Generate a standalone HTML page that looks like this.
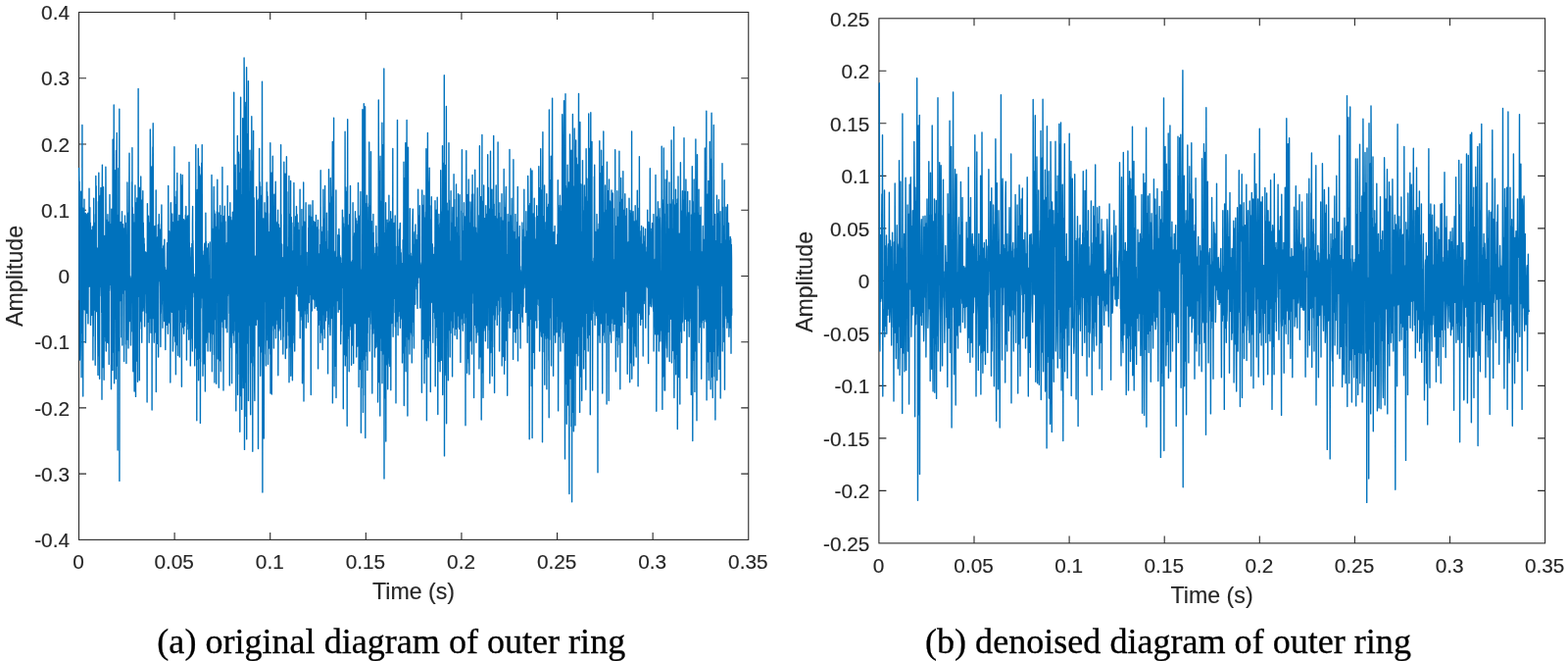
<!DOCTYPE html>
<html><head><meta charset="utf-8"><title>figure</title>
<style>
html,body{margin:0;padding:0;background:#fff;}
body{width:1600px;height:674px;overflow:hidden;position:relative;font-family:"Liberation Sans",sans-serif;}
svg{position:absolute;left:0;top:0;display:block}
.t{font-family:"Liberation Sans",sans-serif;font-size:20.8px;fill:#262626;stroke:#262626;stroke-width:0.15px;}
.l{font-family:"Liberation Sans",sans-serif;font-size:23.2px;fill:#262626;stroke:#262626;stroke-width:0.15px;}
.c{font-family:"Liberation Serif",serif;font-size:36.1px;fill:#000;stroke:#000;stroke-width:0.3px;}
</style></head><body>
<svg width="1600" height="674" viewBox="0 0 1600 674">
<rect width="1600" height="674" fill="#fff"/>
<rect x="80.5" y="12.5" width="683.25" height="537.90" fill="none" stroke="#2a2a2a" stroke-width="1.1"/>
<text x="71.00" y="558.10" text-anchor="end" class="t">-0.4</text>
<text x="71.00" y="490.86" text-anchor="end" class="t">-0.3</text>
<text x="71.00" y="423.62" text-anchor="end" class="t">-0.2</text>
<text x="71.00" y="356.39" text-anchor="end" class="t">-0.1</text>
<text x="71.00" y="289.15" text-anchor="end" class="t">0</text>
<text x="71.00" y="221.91" text-anchor="end" class="t">0.1</text>
<text x="71.00" y="154.68" text-anchor="end" class="t">0.2</text>
<text x="71.00" y="87.44" text-anchor="end" class="t">0.3</text>
<text x="71.00" y="20.20" text-anchor="end" class="t">0.4</text>
<text x="80.10" y="579.60" text-anchor="middle" class="t">0</text>
<text x="177.71" y="579.60" text-anchor="middle" class="t">0.05</text>
<text x="275.31" y="579.60" text-anchor="middle" class="t">0.1</text>
<text x="372.92" y="579.60" text-anchor="middle" class="t">0.15</text>
<text x="470.53" y="579.60" text-anchor="middle" class="t">0.2</text>
<text x="568.14" y="579.60" text-anchor="middle" class="t">0.25</text>
<text x="665.74" y="579.60" text-anchor="middle" class="t">0.3</text>
<text x="763.35" y="579.60" text-anchor="middle" class="t">0.35</text>
<path d="M80.5,483.16h7.5M763.75,483.16h-7.5M80.5,415.92h7.5M763.75,415.92h-7.5M80.5,348.69h7.5M763.75,348.69h-7.5M80.5,281.45h7.5M763.75,281.45h-7.5M80.5,214.21h7.5M763.75,214.21h-7.5M80.5,146.98h7.5M763.75,146.98h-7.5M80.5,79.74h7.5M763.75,79.74h-7.5M178.11,550.4v-7.5M178.11,12.5v7.5M275.71,550.4v-7.5M275.71,12.5v7.5M373.32,550.4v-7.5M373.32,12.5v7.5M470.93,550.4v-7.5M470.93,12.5v7.5M568.54,550.4v-7.5M568.54,12.5v7.5M666.14,550.4v-7.5M666.14,12.5v7.5" fill="none" stroke="#2a2a2a" stroke-width="1.1"/>
<path d="M80.6,171.1 80.8,185.1 80.9,305.5 81.1,185.2 81.3,232.1 81.4,367.0 81.6,350.2 81.7,326.5 81.9,212.1 82.1,269.9 82.2,346.4 82.4,334.5 82.6,230.4 82.7,195.3 82.9,232.9 83.0,384.8 83.2,308.3 83.4,223.9 83.5,316.0 83.7,321.6 83.9,127.4 84.0,248.6 84.2,339.6 84.3,211.8 84.5,212.6 84.7,404.1 84.8,323.6 85.0,309.7 85.2,257.9 85.3,212.2 85.5,311.7 85.6,262.1 85.8,312.7 86.0,203.1 86.1,309.7 86.3,315.7 86.5,271.3 86.6,233.4 86.8,304.2 86.9,288.7 87.1,312.0 87.3,217.4 87.4,349.2 87.6,300.9 87.8,218.0 87.9,310.5 88.1,234.3 88.2,318.2 88.4,259.1 88.6,218.9 88.7,316.1 88.9,319.2 89.1,255.3 89.2,219.7 89.4,297.6 89.5,265.8 89.7,217.3 89.9,329.9 90.0,321.7 90.2,236.5 90.4,249.0 90.5,282.3 90.7,292.4 90.8,291.6 91.0,192.1 91.2,285.6 91.3,284.8 91.5,289.2 91.7,218.8 91.8,211.7 92.0,258.6 92.2,292.6 92.3,227.3 92.5,331.4 92.6,314.2 92.8,286.3 93.0,316.9 93.1,234.8 93.3,321.5 93.5,237.2 93.6,242.9 93.8,259.4 93.9,319.8 94.1,299.1 94.3,230.9 94.4,290.0 94.6,321.5 94.8,296.7 94.9,367.0 95.1,245.7 95.2,343.1 95.4,308.8 95.6,240.5 95.7,202.2 95.9,316.0 96.1,239.0 96.2,262.9 96.4,227.2 96.5,301.8 96.7,310.0 96.9,306.9 97.0,238.4 97.2,372.3 97.4,304.8 97.5,218.6 97.7,244.0 97.8,179.4 98.0,295.7 98.2,189.8 98.3,316.5 98.5,317.6 98.7,298.5 98.8,265.8 99.0,252.9 99.1,255.8 99.3,305.3 99.5,263.5 99.6,261.2 99.8,345.5 100.0,382.4 100.1,347.4 100.3,363.3 100.4,205.6 100.6,331.1 100.8,176.1 100.9,331.3 101.1,256.3 101.3,245.0 101.4,236.9 101.6,386.3 101.7,286.9 101.9,213.3 102.1,288.7 102.2,200.1 102.4,199.1 102.6,288.8 102.7,211.9 102.9,191.4 103.1,292.7 103.2,291.9 103.4,301.7 103.5,219.8 103.7,318.7 103.9,309.5 104.0,407.3 104.2,199.5 104.4,168.1 104.5,362.7 104.7,213.4 104.8,249.5 105.0,374.6 105.2,223.5 105.3,233.3 105.5,190.8 105.7,308.7 105.8,360.4 106.0,263.6 106.1,387.2 106.3,310.1 106.5,343.6 106.6,257.9 106.8,240.5 107.0,333.5 107.1,245.2 107.3,249.7 107.4,257.4 107.6,321.0 107.8,347.9 107.9,170.2 108.1,207.2 108.3,358.1 108.4,318.8 108.6,224.2 108.7,239.5 108.9,320.1 109.1,231.9 109.2,287.4 109.4,232.5 109.6,349.2 109.7,314.0 109.9,218.6 110.0,235.6 110.2,308.4 110.4,346.4 110.5,275.0 110.7,244.9 110.9,350.4 111.0,248.0 111.2,371.4 111.3,226.1 111.5,296.5 111.7,293.1 111.8,240.8 112.0,198.4 112.2,282.9 112.3,290.3 112.5,240.1 112.6,233.5 112.8,259.7 113.0,290.1 113.1,228.5 113.3,239.1 113.5,396.7 113.6,354.2 113.8,213.1 114.0,363.0 114.1,354.0 114.3,328.0 114.4,242.2 114.6,324.4 114.8,302.3 114.9,377.6 115.1,142.3 115.3,245.7 115.4,348.6 115.6,354.7 115.7,275.3 115.9,263.6 116.1,359.1 116.2,107.0 116.4,237.9 116.6,390.7 116.7,312.2 116.9,193.7 117.0,240.4 117.2,173.8 117.4,325.1 117.5,309.7 117.7,260.7 117.9,314.6 118.0,232.7 118.2,346.4 118.3,386.3 118.5,153.5 118.7,373.2 118.8,363.7 119.0,178.0 119.2,135.5 119.3,351.5 119.5,267.9 119.6,245.0 119.8,318.0 120.0,249.7 120.1,459.0 120.3,222.8 120.5,222.3 120.6,219.1 120.8,299.4 120.9,171.7 121.1,340.3 121.3,357.5 121.4,294.9 121.6,202.3 121.8,111.1 121.9,490.4 122.1,248.0 122.2,275.8 122.4,268.2 122.6,306.8 122.7,246.5 122.9,244.1 123.1,226.4 123.2,251.7 123.4,287.8 123.5,228.6 123.7,293.4 123.9,296.7 124.0,343.7 124.2,231.4 124.4,250.5 124.5,215.6 124.7,352.1 124.9,252.6 125.0,230.4 125.2,248.7 125.3,295.6 125.5,228.6 125.7,239.9 125.8,299.0 126.0,298.7 126.2,246.5 126.3,268.2 126.5,299.4 126.6,368.5 126.8,274.4 127.0,232.8 127.1,295.8 127.3,295.5 127.5,220.0 127.6,237.1 127.8,286.9 127.9,283.3 128.1,270.7 128.3,227.4 128.4,238.9 128.6,350.9 128.8,252.0 128.9,370.5 129.1,294.4 129.2,262.6 129.4,255.9 129.6,242.8 129.7,328.1 129.9,185.9 130.1,230.0 130.2,329.0 130.4,346.4 130.5,322.9 130.7,341.0 130.9,293.2 131.0,355.1 131.2,326.4 131.4,216.9 131.5,309.1 131.7,231.9 131.8,198.2 132.0,156.2 132.2,327.6 132.3,291.7 132.5,290.1 132.7,281.6 132.8,283.4 133.0,326.7 133.1,286.9 133.3,288.7 133.5,352.1 133.6,314.7 133.8,288.6 134.0,283.8 134.1,292.2 134.3,304.6 134.4,279.3 134.6,185.8 134.8,231.2 134.9,150.6 135.1,338.1 135.3,211.6 135.4,257.3 135.6,337.4 135.8,378.8 135.9,251.9 136.1,218.5 136.2,314.5 136.4,319.0 136.6,226.9 136.7,340.8 136.9,337.8 137.1,399.0 137.2,256.1 137.4,227.9 137.5,328.7 137.7,377.8 137.9,188.9 138.0,252.7 138.2,317.2 138.4,241.1 138.5,404.4 138.7,231.9 138.8,345.3 139.0,269.9 139.2,206.8 139.3,267.4 139.5,368.0 139.7,367.1 139.8,202.0 140.0,216.3 140.1,291.7 140.3,299.2 140.5,389.2 140.6,300.7 140.8,294.7 141.0,215.6 141.1,90.4 141.3,296.5 141.4,302.2 141.6,226.6 141.8,255.5 141.9,192.0 142.1,208.3 142.3,387.7 142.4,232.2 142.6,193.2 142.7,335.3 142.9,191.2 143.1,246.9 143.2,222.9 143.4,315.9 143.6,326.9 143.7,180.0 143.9,261.8 144.0,320.5 144.2,328.1 144.4,237.5 144.5,204.1 144.7,349.2 144.9,303.9 145.0,212.5 145.2,232.1 145.3,302.7 145.5,303.3 145.7,206.0 145.8,194.8 146.0,317.1 146.2,302.9 146.3,227.2 146.5,254.9 146.7,304.9 146.8,313.5 147.0,243.0 147.1,306.1 147.3,248.8 147.5,297.4 147.6,332.9 147.8,288.0 148.0,292.5 148.1,299.6 148.3,258.4 148.4,260.9 148.6,256.9 148.8,289.1 148.9,257.4 149.1,261.9 149.3,308.8 149.4,319.1 149.6,304.3 149.7,312.5 149.9,302.1 150.1,410.0 150.2,323.3 150.4,207.6 150.6,309.6 150.7,317.7 150.9,239.0 151.0,223.3 151.2,328.2 151.4,324.6 151.5,220.3 151.7,256.3 151.9,297.1 152.0,316.3 152.2,349.2 152.3,234.7 152.5,325.1 152.7,299.5 152.8,227.0 153.0,234.7 153.2,317.8 153.3,131.9 153.5,158.8 153.6,227.0 153.8,302.2 154.0,339.3 154.1,301.5 154.3,175.5 154.5,311.8 154.6,309.9 154.8,317.0 154.9,169.9 155.1,418.0 155.3,239.4 155.4,175.1 155.6,205.0 155.8,217.7 155.9,149.9 156.1,220.9 156.2,125.7 156.4,204.4 156.6,324.7 156.7,231.0 156.9,231.9 157.1,335.0 157.2,349.2 157.4,327.5 157.6,234.9 157.7,338.2 157.9,338.9 158.0,230.4 158.2,296.5 158.4,315.4 158.5,319.5 158.7,338.3 158.9,234.7 159.0,308.9 159.2,193.9 159.3,399.6 159.5,345.5 159.7,288.6 159.8,306.7 160.0,253.4 160.2,242.7 160.3,321.9 160.5,350.3 160.6,259.4 160.8,241.4 161.0,342.8 161.1,349.1 161.3,229.2 161.5,264.4 161.6,364.0 161.8,293.0 161.9,289.1 162.1,275.2 162.3,218.5 162.4,233.8 162.6,268.6 162.8,286.3 162.9,286.5 163.1,234.0 163.2,250.8 163.4,268.4 163.6,291.7 163.7,314.7 163.9,353.6 164.1,305.5 164.2,319.7 164.4,314.3 164.5,228.7 164.7,234.4 164.9,209.0 165.0,303.7 165.2,257.3 165.4,309.8 165.5,269.9 165.7,297.7 165.8,255.4 166.0,334.3 166.2,253.6 166.3,298.7 166.5,259.1 166.7,251.2 166.8,297.7 167.0,306.2 167.1,250.1 167.3,270.3 167.5,305.8 167.6,327.5 167.8,244.3 168.0,267.9 168.1,288.6 168.3,272.5 168.5,273.5 168.6,275.4 168.8,356.6 168.9,323.3 169.1,279.1 169.3,278.1 169.4,275.8 169.6,316.5 169.8,277.3 169.9,278.6 170.1,331.4 170.2,326.2 170.4,268.0 170.6,247.7 170.7,307.2 170.9,252.6 171.1,261.0 171.2,266.4 171.4,340.3 171.5,292.3 171.7,189.5 171.9,292.1 172.0,293.9 172.2,328.9 172.4,236.1 172.5,261.8 172.7,235.7 172.8,318.1 173.0,237.2 173.2,255.3 173.3,313.6 173.5,330.2 173.7,243.6 173.8,390.1 174.0,323.8 174.1,253.4 174.3,206.7 174.5,237.9 174.6,313.6 174.8,300.6 175.0,234.8 175.1,244.5 175.3,315.5 175.4,318.3 175.6,231.3 175.8,218.0 175.9,318.1 176.1,227.2 176.3,226.4 176.4,358.1 176.6,349.9 176.7,320.7 176.9,240.6 177.1,258.6 177.2,342.7 177.4,317.4 177.6,227.6 177.7,254.4 177.9,149.7 178.0,320.3 178.2,241.6 178.4,268.8 178.5,200.6 178.7,348.3 178.9,242.7 179.0,249.7 179.2,318.0 179.4,381.8 179.5,208.5 179.7,229.5 179.8,333.1 180.0,350.2 180.2,195.0 180.3,350.9 180.5,351.5 180.7,334.6 180.8,176.4 181.0,268.4 181.1,300.0 181.3,331.0 181.5,362.5 181.6,238.5 181.8,284.0 182.0,310.2 182.1,225.7 182.3,260.3 182.4,309.2 182.6,315.8 182.8,231.6 182.9,219.5 183.1,306.0 183.3,364.0 183.4,230.7 183.6,224.0 183.7,320.5 183.9,328.6 184.1,244.0 184.2,318.9 184.4,177.6 184.6,322.0 184.7,200.9 184.9,188.9 185.0,222.1 185.2,317.3 185.4,394.3 185.5,230.3 185.7,296.1 185.9,317.4 186.0,200.4 186.2,178.5 186.3,333.7 186.5,246.4 186.7,253.6 186.8,264.4 187.0,313.6 187.2,225.3 187.3,254.7 187.5,223.6 187.6,340.3 187.8,301.7 188.0,233.0 188.1,224.8 188.3,332.2 188.5,260.0 188.6,328.5 188.8,226.6 188.9,304.1 189.1,306.9 189.3,219.3 189.4,246.8 189.6,306.6 189.8,210.5 189.9,297.2 190.1,315.7 190.3,247.0 190.4,367.0 190.6,324.5 190.7,232.6 190.9,316.7 191.1,335.7 191.2,224.1 191.4,220.2 191.6,317.3 191.7,329.7 191.9,242.9 192.0,251.8 192.2,326.5 192.4,219.7 192.5,225.4 192.7,346.2 192.9,255.2 193.0,165.4 193.2,249.9 193.3,247.5 193.5,299.8 193.7,334.8 193.8,262.2 194.0,267.7 194.2,312.1 194.3,372.9 194.5,348.6 194.6,297.0 194.8,264.7 195.0,252.6 195.1,276.5 195.3,276.2 195.5,271.5 195.6,344.8 195.8,248.4 195.9,249.3 196.1,341.5 196.3,358.1 196.4,228.2 196.6,210.5 196.8,290.7 196.9,245.3 197.1,259.6 197.2,268.0 197.4,296.6 197.6,298.2 197.7,279.2 197.9,280.0 198.1,303.0 198.2,295.9 198.4,284.9 198.5,339.7 198.7,372.9 198.9,286.4 199.0,284.6 199.2,282.8 199.4,311.4 199.5,354.9 199.7,278.0 199.8,147.6 200.0,324.6 200.2,303.4 200.3,209.4 200.5,303.3 200.7,338.5 200.8,428.7 201.0,196.9 201.2,301.1 201.3,193.5 201.5,362.1 201.6,245.2 201.8,195.8 202.0,366.3 202.1,317.2 202.3,151.5 202.5,166.5 202.6,387.7 202.8,173.7 202.9,227.9 203.1,189.9 203.3,169.7 203.4,263.3 203.6,177.5 203.8,232.1 203.9,365.2 204.1,354.8 204.2,179.0 204.4,431.4 204.6,338.2 204.7,368.9 204.9,257.5 205.1,243.1 205.2,313.9 205.4,170.7 205.5,290.7 205.7,166.3 205.9,293.1 206.0,303.9 206.2,147.6 206.4,275.3 206.5,283.2 206.7,296.5 206.8,256.0 207.0,383.3 207.2,301.1 207.3,365.1 207.5,271.9 207.7,271.4 207.8,315.3 208.0,370.9 208.1,260.1 208.3,265.0 208.5,322.7 208.6,252.4 208.8,248.2 209.0,317.5 209.1,336.3 209.3,356.7 209.4,399.0 209.6,266.1 209.8,348.2 209.9,217.1 210.1,274.0 210.3,246.2 210.4,349.2 210.6,343.5 210.7,279.0 210.9,256.4 211.1,252.9 211.2,327.8 211.4,255.5 211.6,273.0 211.7,324.2 211.9,322.9 212.1,358.1 212.2,274.7 212.4,321.6 212.5,248.6 212.7,328.7 212.9,279.4 213.0,312.8 213.2,313.8 213.4,271.1 213.5,338.8 213.7,317.6 213.8,275.8 214.0,269.7 214.2,247.0 214.3,332.5 214.5,358.1 214.7,336.9 214.8,301.8 215.0,335.8 215.1,335.0 215.3,284.5 215.5,327.6 215.6,338.4 215.8,339.9 216.0,178.5 216.1,205.3 216.3,339.8 216.4,378.8 216.6,233.1 216.8,270.6 216.9,312.9 217.1,323.0 217.3,294.5 217.4,259.9 217.6,340.6 217.7,319.8 217.9,242.8 218.1,212.9 218.2,190.4 218.4,361.6 218.6,236.3 218.7,214.7 218.9,390.1 219.0,255.1 219.2,250.2 219.4,218.3 219.5,325.6 219.7,317.9 219.9,236.5 220.0,274.6 220.2,231.5 220.3,285.7 220.5,246.2 220.7,391.3 220.8,239.3 221.0,287.4 221.2,229.2 221.3,215.9 221.5,295.1 221.6,308.1 221.8,183.2 222.0,249.7 222.1,272.2 222.3,365.9 222.5,254.0 222.6,248.1 222.8,234.9 223.0,216.9 223.1,250.1 223.3,395.2 223.4,347.7 223.6,351.2 223.8,256.0 223.9,234.1 224.1,342.3 224.3,349.7 224.4,305.4 224.6,209.6 224.7,367.8 224.9,224.0 225.1,223.8 225.2,219.4 225.4,378.8 225.6,331.5 225.7,226.9 225.9,231.9 226.0,235.8 226.2,324.5 226.4,248.9 226.5,327.9 226.7,310.0 226.9,170.5 227.0,277.2 227.2,232.4 227.3,303.0 227.5,333.7 227.7,302.3 227.8,249.3 228.0,398.1 228.2,238.2 228.3,220.4 228.5,226.2 228.6,294.7 228.8,300.4 229.0,245.2 229.1,325.6 229.3,210.2 229.5,311.4 229.6,240.1 229.8,248.8 229.9,226.0 230.1,289.8 230.3,263.1 230.4,334.3 230.6,317.1 230.8,313.3 230.9,260.7 231.1,270.9 231.2,311.2 231.4,247.7 231.6,255.2 231.7,254.5 231.9,338.8 232.1,303.8 232.2,189.5 232.4,301.4 232.5,296.1 232.7,289.8 232.9,230.5 233.0,245.7 233.2,299.0 233.4,288.0 233.5,239.1 233.7,220.8 233.9,298.3 234.0,319.5 234.2,264.7 234.3,393.1 234.5,344.0 234.7,331.5 234.8,206.7 235.0,326.6 235.2,341.5 235.3,223.1 235.5,221.4 235.6,249.5 235.8,319.4 236.0,354.3 236.1,348.3 236.3,351.3 236.5,320.5 236.6,390.7 236.8,224.7 236.9,245.1 237.1,333.0 237.3,291.1 237.4,216.2 237.6,255.2 237.8,320.6 237.9,339.5 238.1,251.9 238.2,253.8 238.4,341.9 238.6,338.8 238.7,94.2 238.9,349.2 239.1,232.5 239.2,251.8 239.4,253.8 239.5,212.9 239.7,327.2 239.9,318.9 240.0,262.1 240.2,168.1 240.4,337.3 240.5,311.2 240.7,312.4 240.8,418.9 241.0,329.1 241.2,358.2 241.3,194.3 241.5,333.0 241.7,351.0 241.8,359.8 242.0,225.9 242.1,239.9 242.3,138.4 242.5,358.9 242.6,402.6 242.8,291.5 243.0,381.4 243.1,155.6 243.3,192.3 243.4,155.2 243.6,338.6 243.8,329.2 243.9,200.3 244.1,200.0 244.3,179.1 244.4,307.3 244.6,176.2 244.8,440.3 244.9,329.8 245.1,157.3 245.2,227.7 245.4,206.8 245.6,99.3 245.7,293.4 245.9,172.6 246.1,171.9 246.2,403.8 246.4,371.6 246.5,198.4 246.7,417.4 246.9,291.4 247.0,341.2 247.2,384.6 247.4,233.0 247.5,347.9 247.7,120.6 247.8,205.1 248.0,219.5 248.2,395.6 248.3,307.8 248.5,149.5 248.7,209.0 248.8,329.1 249.0,361.0 249.1,58.9 249.3,96.6 249.5,458.4 249.6,374.2 249.8,149.7 250.0,188.1 250.1,424.5 250.3,176.7 250.4,109.0 250.6,389.8 250.8,104.4 250.9,354.9 251.1,169.7 251.3,177.5 251.4,356.5 251.6,68.7 251.7,447.7 251.9,170.4 252.1,350.2 252.2,346.0 252.4,335.3 252.6,216.8 252.7,205.9 252.9,136.5 253.0,213.6 253.2,155.0 253.4,82.6 253.5,408.5 253.7,195.7 253.9,332.1 254.0,313.5 254.2,266.3 254.3,299.6 254.5,233.5 254.7,200.2 254.8,212.5 255.0,153.3 255.2,337.3 255.3,353.3 255.5,381.4 255.7,422.8 255.8,264.5 256.0,363.5 256.1,327.8 256.3,176.4 256.5,174.2 256.6,369.6 256.8,118.8 257.0,175.1 257.1,163.4 257.3,337.5 257.4,331.3 257.6,169.6 257.8,460.2 257.9,328.8 258.1,362.9 258.3,188.9 258.4,207.6 258.6,133.4 258.7,315.3 258.9,236.2 259.1,232.0 259.2,201.8 259.4,372.5 259.6,374.6 259.7,395.8 259.9,408.5 260.0,314.6 260.2,273.9 260.4,272.4 260.5,261.3 260.7,321.5 260.9,265.1 261.0,267.1 261.2,320.5 261.3,331.4 261.5,257.3 261.7,190.4 261.8,308.6 262.0,255.4 262.2,300.2 262.3,204.3 262.5,302.4 262.6,325.8 262.8,241.5 263.0,244.6 263.1,304.8 263.3,310.6 263.5,457.5 263.6,244.6 263.8,205.3 263.9,202.9 264.1,311.4 264.3,231.3 264.4,335.9 264.6,151.5 264.8,352.9 264.9,215.5 265.1,185.8 265.2,349.3 265.4,240.4 265.6,190.1 265.7,383.3 265.9,366.7 266.1,199.2 266.2,246.8 266.4,359.0 266.6,347.6 266.7,201.5 266.9,212.6 267.0,353.1 267.2,298.9 267.4,205.8 267.5,83.2 267.7,255.5 267.9,502.0 268.0,242.0 268.2,236.0 268.3,354.6 268.5,360.9 268.7,228.3 268.8,222.9 269.0,270.1 269.2,335.7 269.3,447.1 269.5,274.8 269.6,361.2 269.8,344.5 270.0,206.7 270.1,239.9 270.3,307.5 270.5,286.3 270.6,228.0 270.8,217.3 270.9,298.2 271.1,283.2 271.3,271.8 271.4,372.9 271.6,293.2 271.8,294.9 271.9,219.3 272.1,218.4 272.2,185.9 272.4,294.6 272.6,226.9 272.7,195.8 272.9,346.8 273.1,296.0 273.2,200.2 273.4,242.0 273.5,371.4 273.7,324.4 273.9,247.3 274.0,246.1 274.2,255.7 274.4,349.3 274.5,251.4 274.7,236.5 274.8,355.1 275.0,265.7 275.2,268.4 275.3,233.5 275.5,217.7 275.7,361.3 275.8,145.8 276.0,401.1 276.1,293.7 276.3,346.2 276.5,257.3 276.6,200.4 276.8,331.4 277.0,191.9 277.1,176.1 277.3,402.0 277.5,324.1 277.6,337.3 277.8,239.3 277.9,255.2 278.1,301.7 278.3,159.2 278.4,206.4 278.6,248.5 278.8,287.0 278.9,332.1 279.1,237.6 279.2,245.8 279.4,355.1 279.6,226.3 279.7,236.0 279.9,198.1 280.1,321.9 280.2,334.9 280.4,198.9 280.5,200.2 280.7,318.9 280.9,322.7 281.0,222.0 281.2,185.3 281.4,222.8 281.5,344.7 281.7,321.4 281.8,233.2 282.0,330.7 282.2,320.9 282.3,235.1 282.5,227.4 282.7,325.2 282.8,326.1 283.0,226.3 283.1,268.8 283.3,319.8 283.5,287.9 283.6,214.1 283.8,382.7 284.0,334.9 284.1,311.4 284.3,320.9 284.4,228.9 284.6,328.1 284.8,337.1 284.9,241.9 285.1,232.4 285.3,335.0 285.4,296.7 285.6,242.9 285.7,267.3 285.9,238.8 286.1,251.2 286.2,334.0 286.4,243.0 286.6,147.6 286.7,346.2 286.9,218.7 287.0,271.5 287.2,307.9 287.4,314.2 287.5,269.7 287.7,249.3 287.9,309.6 288.0,311.8 288.2,263.7 288.4,268.2 288.5,310.9 288.7,318.1 288.8,361.0 289.0,262.6 289.2,343.2 289.3,279.1 289.5,272.1 289.7,274.0 289.8,165.1 290.0,263.7 290.1,302.0 290.3,194.8 290.5,184.3 290.6,198.2 290.8,204.7 291.0,177.1 291.1,304.2 291.3,365.5 291.4,230.1 291.6,291.7 291.8,180.3 291.9,345.2 292.1,223.1 292.3,185.7 292.4,159.8 292.6,329.2 292.7,355.1 292.9,195.6 293.1,328.0 293.2,326.8 293.4,251.8 293.6,300.7 293.7,322.2 293.9,268.8 294.0,275.4 294.2,258.0 294.4,255.6 294.5,341.9 294.7,259.9 294.9,179.4 295.0,389.8 295.2,343.6 295.3,266.9 295.5,262.7 295.7,266.1 295.8,313.0 296.0,224.2 296.2,349.5 296.3,218.1 296.5,354.2 296.6,184.4 296.8,383.3 297.0,317.7 297.1,325.0 297.3,221.5 297.5,333.5 297.6,352.7 297.8,246.6 297.9,227.3 298.1,279.2 298.3,354.6 298.4,387.7 298.6,344.4 298.8,345.1 298.9,256.3 299.1,349.6 299.3,329.7 299.4,258.1 299.6,265.8 299.7,295.6 299.9,186.5 300.1,233.1 300.2,341.2 300.4,335.1 300.6,238.4 300.7,358.1 300.9,314.3 301.0,282.9 301.2,231.7 301.4,294.9 301.5,294.6 301.7,221.3 301.9,220.4 302.0,229.0 302.2,294.1 302.3,299.9 302.5,210.5 302.7,263.8 302.8,291.4 303.0,285.4 303.2,218.7 303.3,254.6 303.5,245.3 303.6,253.9 303.8,232.1 304.0,302.1 304.1,227.1 304.3,284.2 304.5,296.7 304.6,234.5 304.8,309.9 304.9,316.7 305.1,267.4 305.3,246.2 305.4,304.4 305.6,308.0 305.8,302.6 305.9,251.7 306.1,193.3 306.2,344.7 306.4,266.2 306.6,274.7 306.7,313.9 306.9,322.5 307.1,274.4 307.2,260.8 307.4,321.5 307.5,321.9 307.7,288.4 307.9,213.5 308.0,326.3 308.2,307.0 308.4,230.9 308.5,390.7 308.7,333.7 308.8,307.4 309.0,334.3 309.2,234.0 309.3,352.0 309.5,345.7 309.7,185.9 309.8,245.0 310.0,409.1 310.2,327.9 310.3,296.3 310.5,234.5 310.6,229.6 310.8,226.2 311.0,290.9 311.1,316.5 311.3,310.9 311.5,306.3 311.6,249.5 311.8,273.4 311.9,320.2 312.1,206.7 312.3,334.3 312.4,265.8 312.6,307.7 312.8,299.8 312.9,264.8 313.1,257.5 313.2,290.2 313.4,314.3 313.6,271.5 313.7,298.7 313.9,319.9 314.1,290.2 314.2,316.5 314.4,328.4 314.5,309.6 314.7,232.4 314.9,260.8 315.0,209.0 315.2,298.5 315.4,308.5 315.5,299.4 315.7,226.0 315.8,299.9 316.0,300.4 316.2,276.8 316.3,220.3 316.5,287.0 316.7,248.9 316.8,209.0 317.0,247.8 317.1,312.5 317.3,402.6 317.5,221.1 317.6,263.1 317.8,285.1 318.0,268.5 318.1,247.5 318.3,246.2 318.4,316.9 318.6,237.3 318.8,304.3 318.9,237.8 319.1,204.6 319.3,252.5 319.4,265.3 319.6,230.2 319.7,298.3 319.9,305.1 320.1,301.2 320.2,225.7 320.4,295.9 320.6,305.7 320.7,233.0 320.9,260.8 321.1,314.3 321.2,307.5 321.4,267.1 321.5,226.7 321.7,303.1 321.9,305.1 322.0,233.2 322.2,226.8 322.4,297.3 322.5,219.4 322.7,312.4 322.8,240.9 323.0,249.8 323.2,309.9 323.3,231.9 323.5,235.2 323.7,244.9 323.8,316.3 324.0,232.9 324.1,237.6 324.3,267.2 324.5,224.5 324.6,375.9 324.8,234.0 325.0,322.4 325.1,326.9 325.3,331.3 325.4,269.9 325.6,272.3 325.8,275.1 325.9,268.0 326.1,258.8 326.3,291.4 326.4,326.2 326.6,325.1 326.7,249.5 326.9,349.2 327.1,322.6 327.2,173.7 327.4,278.1 327.6,334.6 327.7,339.1 327.9,269.1 328.0,236.3 328.2,291.9 328.4,325.5 328.5,241.7 328.7,244.5 328.9,342.0 329.0,245.1 329.2,356.6 329.3,231.3 329.5,309.0 329.7,320.8 329.8,193.3 330.0,229.3 330.2,294.3 330.3,312.7 330.5,232.8 330.6,223.2 330.8,335.2 331.0,309.2 331.1,239.5 331.3,344.7 331.5,250.4 331.6,189.5 331.8,252.2 332.0,324.4 332.1,322.5 332.3,326.9 332.4,246.5 332.6,257.2 332.8,285.4 332.9,316.7 333.1,257.8 333.3,279.1 333.4,217.1 333.6,301.8 333.7,235.4 333.9,263.0 334.1,308.7 334.2,323.8 334.4,255.6 334.6,380.9 334.7,320.9 334.9,333.5 335.0,254.2 335.2,330.7 335.4,306.8 335.5,172.8 335.7,267.8 335.9,259.6 336.0,296.2 336.2,217.5 336.3,207.4 336.5,209.6 336.7,284.3 336.8,335.2 337.0,341.8 337.2,326.8 337.3,181.4 337.5,203.9 337.6,220.4 337.8,219.4 338.0,253.3 338.1,311.9 338.3,201.4 338.5,324.6 338.6,323.9 338.8,324.6 338.9,233.5 339.1,192.5 339.3,144.4 339.4,410.9 339.6,200.4 339.8,311.9 339.9,179.8 340.1,206.4 340.2,251.8 340.4,270.4 340.6,120.3 340.7,293.1 340.9,268.0 341.1,393.7 341.2,331.4 341.4,355.3 341.5,258.4 341.7,360.6 341.9,332.6 342.0,373.3 342.2,256.1 342.4,268.7 342.5,342.8 342.7,321.7 342.9,193.9 343.0,405.6 343.2,318.2 343.3,271.5 343.5,262.3 343.7,300.9 343.8,266.3 344.0,306.5 344.2,274.0 344.3,265.1 344.5,289.1 344.6,306.2 344.8,239.8 345.0,267.4 345.1,318.3 345.3,301.3 345.5,314.7 345.6,242.4 345.8,310.7 345.9,233.4 346.1,248.6 346.3,240.0 346.4,315.5 346.6,305.0 346.8,260.8 346.9,294.5 347.1,307.9 347.2,297.8 347.4,272.4 347.6,263.0 347.7,350.7 347.9,324.5 348.1,337.7 348.2,323.8 348.4,273.5 348.5,331.1 348.7,268.5 348.9,274.0 349.0,290.7 349.2,293.2 349.4,214.1 349.5,223.9 349.7,283.2 349.8,292.5 350.0,221.6 350.2,236.2 350.3,416.8 350.5,228.0 350.7,244.3 350.8,232.0 351.0,250.7 351.1,314.8 351.3,361.5 351.5,268.6 351.6,296.4 351.8,352.5 352.0,352.1 352.1,134.3 352.3,372.9 352.4,347.2 352.6,192.3 352.8,191.0 352.9,331.4 353.1,362.8 353.3,245.3 353.4,195.2 353.6,237.4 353.8,324.1 353.9,226.6 354.1,354.8 354.2,434.3 354.4,217.2 354.6,193.0 354.7,121.8 354.9,342.3 355.1,318.5 355.2,235.6 355.4,229.6 355.5,301.2 355.7,288.3 355.9,345.6 356.0,249.3 356.2,378.8 356.4,287.5 356.5,247.8 356.7,218.7 356.8,296.4 357.0,310.3 357.2,241.4 357.3,303.6 357.5,189.5 357.7,333.1 357.8,269.2 358.0,275.2 358.1,336.2 358.3,308.5 358.5,267.1 358.6,372.3 358.8,267.4 359.0,350.2 359.1,274.1 359.3,278.3 359.4,329.8 359.6,265.5 359.8,315.2 359.9,352.1 360.1,206.7 360.3,334.2 360.4,241.0 360.6,277.9 360.7,370.5 360.9,321.6 361.1,244.3 361.2,261.6 361.4,324.3 361.6,244.6 361.7,237.7 361.9,273.5 362.0,326.1 362.2,329.8 362.4,223.9 362.5,215.6 362.7,304.9 362.9,298.4 363.0,242.6 363.2,222.8 363.3,294.6 363.5,301.9 363.7,364.0 363.8,225.2 364.0,297.4 364.2,302.8 364.3,228.7 364.5,248.0 364.7,296.5 364.8,353.0 365.0,251.0 365.1,230.2 365.3,307.8 365.5,186.5 365.6,238.3 365.8,245.7 366.0,248.7 366.1,394.6 366.3,220.6 366.4,232.5 366.6,226.0 366.8,373.5 366.9,220.2 367.1,258.8 367.3,251.0 367.4,376.5 367.6,226.9 367.7,225.0 367.9,195.4 368.1,310.6 368.2,274.8 368.4,441.2 368.6,345.3 368.7,330.5 368.9,350.4 369.0,276.5 369.2,340.2 369.4,368.1 369.5,279.4 369.7,269.8 369.9,111.7 370.0,315.9 370.2,395.7 370.3,241.4 370.5,420.4 370.7,328.0 370.8,189.9 371.0,193.9 371.2,172.2 371.3,105.8 371.5,258.8 371.6,144.8 371.8,366.5 372.0,138.9 372.1,230.6 372.3,192.0 372.5,403.1 372.6,108.7 372.8,446.5 372.9,234.4 373.1,363.3 373.3,286.1 373.4,207.9 373.6,234.4 373.8,358.2 373.9,233.6 374.1,215.4 374.2,302.9 374.4,199.3 374.6,355.2 374.7,207.6 374.9,377.4 375.1,295.9 375.2,339.4 375.4,224.4 375.6,257.8 375.7,300.6 375.9,232.5 376.0,256.2 376.2,211.2 376.4,323.0 376.5,316.8 376.7,145.0 376.9,222.7 377.0,293.8 377.2,322.0 377.3,358.1 377.5,323.7 377.7,305.9 377.8,289.3 378.0,209.7 378.2,249.7 378.3,314.6 378.5,154.7 378.6,256.8 378.8,227.1 379.0,316.4 379.1,330.2 379.3,225.8 379.5,335.7 379.6,320.4 379.8,401.1 379.9,260.3 380.1,300.6 380.3,292.0 380.4,339.8 380.6,237.4 380.8,339.9 380.9,218.5 381.1,335.2 381.2,237.1 381.4,308.2 381.6,293.1 381.7,298.5 381.9,303.2 382.1,260.8 382.2,267.4 382.4,364.0 382.5,268.9 382.7,258.4 382.9,315.4 383.0,265.0 383.2,252.3 383.4,268.2 383.5,354.6 383.7,321.4 383.8,230.4 384.0,336.3 384.2,298.0 384.3,248.1 384.5,274.2 384.7,251.7 384.8,332.6 385.0,353.6 385.1,264.9 385.3,274.0 385.5,337.6 385.6,410.0 385.8,360.4 386.0,261.2 386.1,371.9 386.3,101.9 386.5,357.9 386.6,187.3 386.8,389.5 386.9,340.7 387.1,204.7 387.3,174.5 387.4,247.9 387.6,362.3 387.8,424.0 387.9,173.7 388.1,159.2 388.2,333.4 388.4,205.0 388.6,221.7 388.7,297.3 388.9,344.8 389.1,231.9 389.2,224.7 389.4,357.5 389.5,337.7 389.7,254.5 389.9,125.1 390.0,390.7 390.2,322.7 390.4,218.0 390.5,232.9 390.7,361.0 390.8,298.6 391.0,147.6 391.2,153.4 391.3,311.5 391.5,356.8 391.7,332.1 391.8,69.9 392.0,488.0 392.1,395.6 392.3,378.7 392.5,383.0 392.6,405.7 392.8,352.3 393.0,237.4 393.1,253.6 393.3,363.1 393.4,258.1 393.6,206.7 393.8,450.1 393.9,329.4 394.1,361.7 394.3,371.9 394.4,234.6 394.6,347.3 394.7,324.4 394.9,267.6 395.1,224.1 395.2,349.6 395.4,310.6 395.6,227.3 395.7,396.7 395.9,340.1 396.0,335.7 396.2,256.1 396.4,303.0 396.5,319.7 396.7,308.9 396.9,199.3 397.0,267.7 397.2,363.4 397.4,371.1 397.5,272.7 397.7,226.3 397.8,373.5 398.0,297.1 398.2,240.1 398.3,274.6 398.5,347.9 398.7,215.6 398.8,397.8 399.0,293.4 399.1,294.5 399.3,223.2 399.5,229.3 399.6,325.3 399.8,329.6 400.0,258.0 400.1,266.2 400.3,251.4 400.4,312.0 400.6,310.3 400.8,151.5 400.9,248.7 401.1,343.2 401.3,307.4 401.4,241.3 401.6,259.1 401.7,304.6 401.9,228.4 402.1,227.5 402.2,269.5 402.4,297.0 402.6,271.4 402.7,244.7 402.9,229.6 403.0,318.8 403.2,220.0 403.4,333.0 403.5,262.2 403.7,251.2 403.9,333.1 404.0,410.9 404.2,270.1 404.3,308.1 404.5,313.1 404.7,327.9 404.8,324.8 405.0,318.8 405.2,311.7 405.3,262.2 405.5,122.4 405.6,242.6 405.8,255.5 406.0,307.0 406.1,341.8 406.3,268.5 406.5,295.5 406.6,252.1 406.8,322.3 406.9,309.1 407.1,296.5 407.3,264.8 407.4,234.2 407.6,317.2 407.8,304.4 407.9,237.5 408.1,234.4 408.3,227.4 408.4,334.3 408.6,254.0 408.7,307.9 408.9,325.1 409.1,320.3 409.2,257.8 409.4,278.4 409.6,295.6 409.7,313.8 409.9,268.4 410.0,270.8 410.2,313.5 410.4,326.2 410.5,369.9 410.7,270.4 410.9,334.0 411.0,319.9 411.2,244.6 411.3,246.1 411.5,346.2 411.7,359.8 411.8,249.4 412.0,165.1 412.2,333.7 412.3,413.6 412.5,352.8 412.6,181.4 412.8,307.7 413.0,352.9 413.1,245.0 413.3,334.8 413.5,284.3 413.6,346.2 413.8,145.8 413.9,232.7 414.1,378.8 414.3,299.5 414.4,216.2 414.6,333.5 414.8,320.9 414.9,328.8 415.1,122.4 415.2,237.0 415.4,343.1 415.6,316.0 415.7,192.9 415.9,424.0 416.1,317.3 416.2,201.1 416.4,312.8 416.5,150.3 416.7,310.7 416.9,345.8 417.0,339.3 417.2,302.4 417.4,329.8 417.5,295.5 417.7,259.9 417.8,317.1 418.0,361.0 418.2,335.1 418.3,212.6 418.5,266.8 418.7,262.6 418.8,333.9 419.0,258.3 419.1,264.4 419.3,275.0 419.5,290.7 419.6,339.3 419.8,261.4 420.0,341.4 420.1,309.7 420.3,369.9 420.5,263.4 420.6,342.9 420.8,308.4 420.9,238.7 421.1,221.3 421.3,213.2 421.4,328.0 421.6,255.7 421.8,249.2 421.9,283.9 422.1,301.0 422.2,259.5 422.4,355.1 422.6,295.9 422.7,301.8 422.9,238.3 423.1,236.5 423.2,284.8 423.4,302.9 423.5,243.8 423.7,310.3 423.9,228.9 424.0,283.1 424.2,260.9 424.4,257.8 424.5,291.1 424.7,291.4 424.8,244.5 425.0,262.3 425.2,291.4 425.3,294.7 425.5,252.0 425.7,263.6 425.8,303.9 426.0,314.4 426.1,239.4 426.3,241.6 426.5,288.6 426.6,193.3 426.8,236.2 427.0,283.2 427.1,282.0 427.3,280.0 427.4,219.9 427.6,238.4 427.8,281.1 427.9,282.6 428.1,240.6 428.3,275.8 428.4,209.6 428.6,291.8 428.7,313.9 428.9,267.9 429.1,272.6 429.2,278.9 429.4,277.7 429.6,274.4 429.7,304.7 429.9,290.4 430.0,270.0 430.2,293.7 430.4,400.2 430.5,304.6 430.7,193.9 430.9,215.2 431.0,309.0 431.2,301.6 431.4,215.3 431.5,209.2 431.7,345.7 431.8,266.1 432.0,259.2 432.2,258.2 432.3,302.4 432.5,344.8 432.7,268.3 432.8,199.3 433.0,390.7 433.1,318.4 433.3,305.1 433.5,228.7 433.6,366.0 433.8,352.6 434.0,252.0 434.1,222.0 434.3,347.4 434.4,232.6 434.6,216.2 434.8,225.4 434.9,151.8 435.1,360.5 435.3,245.1 435.4,428.7 435.6,334.1 435.7,332.8 435.9,250.0 436.1,290.0 436.2,354.6 436.4,135.5 436.6,264.6 436.7,219.2 436.9,352.9 437.0,212.7 437.2,364.0 437.4,342.3 437.5,347.4 437.7,347.4 437.9,185.5 438.0,184.0 438.2,171.1 438.3,341.9 438.5,331.0 438.7,209.7 438.8,335.7 439.0,324.3 439.2,286.2 439.3,399.6 439.5,283.8 439.6,305.4 439.8,248.7 440.0,224.0 440.1,307.1 440.3,200.7 440.5,254.8 440.6,254.8 440.8,291.8 440.9,308.5 441.1,250.8 441.3,249.0 441.4,306.1 441.6,293.6 441.8,349.2 441.9,271.0 442.1,309.6 442.3,286.7 442.4,259.5 442.6,314.5 442.7,262.1 442.9,260.0 443.1,290.3 443.2,318.4 443.4,252.1 443.6,312.5 443.7,324.8 443.9,248.2 444.0,204.6 444.2,393.7 444.4,222.3 444.5,352.6 444.7,304.2 444.9,344.6 445.0,272.3 445.2,214.1 445.3,291.2 445.5,304.9 445.7,256.5 445.8,218.2 446.0,333.2 446.2,201.3 446.3,230.0 446.5,256.2 446.6,335.7 446.8,422.5 447.0,253.4 447.1,229.8 447.3,351.7 447.5,365.6 447.6,360.9 447.8,259.2 447.9,218.5 448.1,368.5 448.3,235.6 448.4,232.2 448.6,301.1 448.8,366.7 448.9,241.9 449.1,378.8 449.2,344.3 449.4,227.8 449.6,242.1 449.7,173.7 449.9,213.4 450.1,339.1 450.2,367.4 450.4,356.2 450.5,320.0 450.7,303.3 450.9,291.5 451.0,215.9 451.2,355.5 451.4,307.3 451.5,148.8 451.7,402.6 451.8,377.3 452.0,220.8 452.2,166.2 452.3,204.8 452.5,312.5 452.7,317.8 452.8,226.8 453.0,185.5 453.2,316.7 453.3,76.7 453.5,464.9 453.6,320.8 453.8,319.4 454.0,315.1 454.1,227.6 454.3,297.6 454.5,336.5 454.6,287.3 454.8,168.2 454.9,378.6 455.1,382.6 455.3,369.6 455.4,108.5 455.6,431.7 455.8,341.4 455.9,326.9 456.1,273.6 456.2,207.1 456.4,344.5 456.6,341.8 456.7,264.7 456.9,240.8 457.1,225.4 457.2,337.4 457.4,387.7 457.5,214.9 457.7,316.6 457.9,301.0 458.0,145.8 458.2,336.6 458.4,204.2 458.5,336.3 458.7,248.7 458.8,258.5 459.0,246.0 459.2,364.0 459.3,248.7 459.5,259.3 459.7,251.3 459.8,339.5 460.0,258.7 460.1,194.8 460.3,312.4 460.5,326.9 460.6,231.6 460.8,250.4 461.0,314.6 461.1,319.2 461.3,227.1 461.4,297.9 461.6,383.9 461.8,219.5 461.9,211.4 462.1,229.0 462.3,334.1 462.4,326.6 462.6,213.8 462.7,258.0 462.9,317.5 463.1,177.6 463.2,215.4 463.4,238.6 463.6,203.5 463.7,297.5 463.9,263.8 464.1,341.8 464.2,299.4 464.4,319.4 464.5,231.6 464.7,272.8 464.9,304.7 465.0,254.5 465.2,251.8 465.4,335.3 465.5,188.0 465.7,328.2 465.8,239.0 466.0,254.5 466.2,309.6 466.3,345.6 466.5,237.2 466.7,276.6 466.8,322.0 467.0,320.1 467.1,221.6 467.3,272.7 467.5,197.8 467.6,317.8 467.8,241.0 468.0,246.1 468.1,333.8 468.3,307.5 468.4,245.3 468.6,335.3 468.8,318.2 468.9,290.8 469.1,198.7 469.3,330.2 469.4,310.9 469.6,309.7 469.7,274.6 469.9,369.4 470.1,314.0 470.2,266.5 470.4,266.0 470.6,325.0 470.7,324.7 470.9,306.2 471.0,215.1 471.2,232.8 471.4,152.7 471.5,303.5 471.7,235.5 471.9,238.0 472.0,331.3 472.2,319.2 472.3,337.3 472.5,270.0 472.7,291.4 472.8,306.0 473.0,239.9 473.2,217.1 473.3,290.0 473.5,206.7 473.6,319.2 473.8,252.6 474.0,329.2 474.1,309.6 474.3,221.0 474.5,250.5 474.6,317.2 474.8,223.6 475.0,433.7 475.1,245.1 475.3,255.0 475.4,316.7 475.6,229.9 475.8,153.6 475.9,312.3 476.1,323.6 476.3,247.9 476.4,221.4 476.6,327.9 476.7,380.3 476.9,206.2 477.1,198.4 477.2,295.9 477.4,324.1 477.6,243.4 477.7,365.5 477.9,347.0 478.0,306.8 478.2,182.9 478.4,240.9 478.5,370.2 478.7,363.9 478.9,381.8 479.0,258.0 479.2,321.6 479.3,227.2 479.5,236.5 479.7,348.1 479.8,326.1 480.0,206.0 480.2,217.3 480.3,230.1 480.5,298.2 480.6,346.7 480.8,224.3 481.0,263.0 481.1,327.4 481.3,286.9 481.5,361.0 481.6,198.3 481.8,297.1 481.9,295.8 482.1,178.5 482.3,298.8 482.4,297.2 482.6,295.8 482.8,198.0 482.9,224.3 483.1,309.3 483.2,300.4 483.4,232.0 483.6,405.6 483.7,293.6 483.9,325.0 484.1,231.6 484.2,252.2 484.4,322.9 484.5,331.4 484.7,173.1 484.9,273.9 485.0,315.0 485.2,329.5 485.4,235.2 485.5,232.2 485.7,334.3 485.9,301.3 486.0,349.2 486.2,333.5 486.3,339.4 486.5,302.1 486.7,272.0 486.8,237.1 487.0,324.8 487.2,191.8 487.3,274.3 487.5,324.0 487.6,301.2 487.8,338.7 488.0,338.9 488.1,238.8 488.3,341.8 488.5,254.5 488.6,259.0 488.8,219.6 488.9,375.9 489.1,349.8 489.3,264.6 489.4,148.8 489.6,347.5 489.8,363.2 489.9,257.2 490.1,215.4 490.2,363.7 490.4,296.2 490.6,219.8 490.7,200.7 490.9,336.1 491.1,358.7 491.2,428.1 491.4,238.2 491.5,292.9 491.7,349.3 491.9,137.5 492.0,379.8 492.2,282.9 492.4,270.9 492.5,266.3 492.7,205.4 492.8,316.5 493.0,405.6 493.2,331.3 493.3,238.0 493.5,315.0 493.7,188.9 493.8,337.1 494.0,258.5 494.1,304.4 494.3,304.1 494.5,222.6 494.6,239.7 494.8,334.4 495.0,303.4 495.1,226.4 495.3,251.5 495.4,347.7 495.6,305.3 495.8,209.6 495.9,226.9 496.1,302.5 496.3,218.2 496.4,222.9 496.6,229.1 496.8,331.8 496.9,309.5 497.1,265.9 497.2,311.8 497.4,292.5 497.6,299.7 497.7,157.7 497.9,355.1 498.1,263.0 498.2,306.2 498.4,191.3 498.5,297.7 498.7,293.2 498.9,310.5 499.0,261.6 499.2,222.4 499.4,313.6 499.5,336.4 499.7,212.9 499.8,390.7 500.0,355.7 500.2,244.5 500.3,213.9 500.5,154.1 500.7,213.8 500.8,359.5 501.0,222.7 501.1,254.6 501.3,346.8 501.5,265.2 501.6,207.2 501.8,212.2 502.0,193.3 502.1,210.4 502.3,383.3 502.4,238.7 502.6,353.7 502.8,297.6 502.9,268.4 503.1,213.5 503.3,301.2 503.4,235.3 503.6,229.8 503.7,138.4 503.9,320.9 504.1,314.6 504.2,208.1 504.4,303.7 504.6,400.5 504.7,301.2 504.9,220.4 505.0,245.8 505.2,326.1 505.4,312.9 505.5,313.5 505.7,230.1 505.9,311.6 506.0,297.2 506.2,188.9 506.3,244.4 506.5,301.1 506.7,256.9 506.8,245.9 507.0,223.1 507.2,322.6 507.3,331.4 507.5,250.0 507.7,270.1 507.8,284.2 508.0,306.1 508.1,145.0 508.3,236.9 508.5,294.7 508.6,230.6 508.8,234.1 509.0,217.7 509.1,321.1 509.3,294.1 509.4,234.6 509.6,358.1 509.8,291.6 509.9,206.7 510.1,317.2 510.3,260.3 510.4,282.8 510.6,256.0 510.7,240.9 510.9,251.9 511.1,302.0 511.2,293.0 511.4,221.6 511.6,289.9 511.7,291.5 511.9,313.4 512.0,197.8 512.2,372.9 512.4,300.0 512.5,256.5 512.7,343.5 512.9,354.8 513.0,225.1 513.2,363.6 513.3,363.1 513.5,307.8 513.7,333.5 513.8,333.7 514.0,253.9 514.2,172.5 514.3,357.2 514.5,214.7 514.6,381.2 514.8,244.8 515.0,345.3 515.1,313.2 515.3,211.7 515.5,367.4 515.6,227.5 515.8,342.0 515.9,213.1 516.1,204.8 516.3,190.4 516.4,342.1 516.6,347.1 516.8,259.4 516.9,313.4 517.1,322.7 517.2,260.0 517.4,264.2 517.6,331.6 517.7,403.2 517.9,268.2 518.1,218.5 518.2,262.9 518.4,327.3 518.6,254.1 518.7,265.0 518.9,288.8 519.0,317.7 519.2,226.4 519.4,226.4 519.5,319.4 519.7,307.9 519.9,268.7 520.0,152.4 520.2,334.3 520.3,320.6 520.5,225.8 520.7,219.7 520.8,262.2 521.0,313.5 521.2,237.2 521.3,234.3 521.5,311.6 521.6,316.6 521.8,293.9 522.0,283.3 522.1,202.2 522.3,234.5 522.5,241.8 522.6,235.7 522.8,293.0 522.9,297.5 523.1,297.4 523.3,258.5 523.4,297.8 523.6,366.4 523.8,268.8 523.9,162.8 524.1,306.9 524.2,331.3 524.4,262.7 524.6,240.3 524.7,338.4 524.9,322.8 525.1,326.4 525.2,236.6 525.4,242.8 525.5,337.9 525.7,308.3 525.9,258.3 526.0,218.5 526.2,349.2 526.4,312.6 526.5,244.1 526.7,302.8 526.8,320.7 527.0,244.3 527.2,311.4 527.3,334.9 527.5,321.9 527.7,326.1 527.8,226.5 528.0,318.2 528.1,310.6 528.3,190.4 528.5,367.9 528.6,297.5 528.8,294.8 529.0,247.5 529.1,292.4 529.3,308.6 529.5,242.0 529.6,267.5 529.8,266.6 529.9,319.4 530.1,289.6 530.3,241.3 530.4,230.4 530.6,335.1 530.8,290.1 530.9,271.7 531.1,355.1 531.2,275.4 531.4,309.4 531.6,303.0 531.7,296.3 531.9,284.3 532.1,299.1 532.2,280.8 532.4,281.3 532.5,276.9 532.7,323.1 532.9,226.9 533.0,237.8 533.2,323.0 533.4,328.4 533.5,252.0 533.7,252.2 533.8,298.1 534.0,312.8 534.2,247.0 534.3,294.6 534.5,233.9 534.7,286.3 534.8,193.3 535.0,293.2 535.1,288.7 535.3,289.4 535.5,282.5 535.6,268.4 535.8,253.6 536.0,288.3 536.1,241.7 536.3,290.0 536.4,258.1 536.6,318.6 536.8,263.8 536.9,215.6 537.1,297.0 537.3,315.2 537.4,237.0 537.6,236.9 537.7,304.7 537.9,305.4 538.1,319.5 538.2,349.2 538.4,235.4 538.6,295.6 538.7,179.4 538.9,203.8 539.0,320.1 539.2,331.8 539.4,209.6 539.5,257.0 539.7,222.5 539.9,289.1 540.0,259.7 540.2,447.7 540.4,313.1 540.5,297.4 540.7,223.2 540.8,207.4 541.0,325.5 541.2,318.2 541.3,243.3 541.5,172.0 541.7,298.4 541.8,220.6 542.0,243.0 542.1,223.3 542.3,393.6 542.5,381.2 542.6,195.2 542.8,385.6 543.0,174.0 543.1,446.5 543.3,267.2 543.4,226.6 543.6,304.2 543.8,323.0 543.9,321.1 544.1,217.9 544.3,359.4 544.4,318.8 544.6,241.9 544.7,235.7 544.9,295.1 545.1,289.4 545.2,202.2 545.4,375.9 545.6,317.5 545.7,221.7 545.9,296.0 546.0,326.0 546.2,300.1 546.4,326.8 546.5,297.2 546.7,244.2 546.9,321.1 547.0,299.6 547.2,294.6 547.3,254.7 547.5,251.8 547.7,209.6 547.8,334.3 548.0,234.4 548.2,310.5 548.3,283.7 548.5,251.8 548.6,220.7 548.8,299.7 549.0,289.5 549.1,239.2 549.3,244.1 549.5,304.1 549.6,304.9 549.8,169.6 549.9,311.7 550.1,286.7 550.3,326.4 550.4,256.6 550.6,358.1 550.8,322.4 550.9,191.8 551.1,216.6 551.3,234.4 551.4,337.7 551.6,224.9 551.7,151.8 551.9,187.4 552.1,318.6 552.2,328.6 552.4,342.2 552.6,343.0 552.7,336.3 552.9,193.9 553.0,255.2 553.2,206.8 553.4,203.4 553.5,450.7 553.7,182.5 553.9,134.6 554.0,307.0 554.2,309.6 554.3,260.1 554.5,255.3 554.7,220.8 554.8,260.8 555.0,339.7 555.2,241.9 555.3,358.7 555.5,343.8 555.6,188.9 555.8,392.2 556.0,234.8 556.1,340.6 556.3,240.0 556.5,257.3 556.6,298.8 556.8,330.9 556.9,342.0 557.1,227.4 557.3,226.4 557.4,345.3 557.6,298.2 557.8,197.8 557.9,396.7 558.1,228.3 558.2,237.0 558.4,259.1 558.6,227.5 558.7,309.8 558.9,268.9 559.1,220.1 559.2,211.2 559.4,344.9 559.5,215.3 559.7,208.2 559.9,367.3 560.0,343.2 560.2,425.7 560.4,112.0 560.5,316.3 560.7,346.2 560.8,183.4 561.0,232.3 561.2,226.6 561.3,291.0 561.5,254.7 561.7,323.8 561.8,301.5 562.0,289.8 562.2,159.2 562.3,179.3 562.5,372.9 562.6,324.8 562.8,272.3 563.0,301.8 563.1,290.5 563.3,303.3 563.5,194.4 563.6,100.1 563.8,288.0 563.9,241.3 564.1,240.1 564.3,293.5 564.4,309.1 564.6,383.3 564.8,295.5 564.9,266.2 565.1,236.6 565.2,341.8 565.4,241.8 565.6,263.9 565.7,303.7 565.9,335.4 566.1,230.4 566.2,330.3 566.4,286.2 566.5,295.8 566.7,349.2 566.9,277.6 567.0,335.5 567.2,251.6 567.4,249.8 567.5,251.2 567.7,290.1 567.8,298.0 568.0,338.7 568.2,249.6 568.3,269.1 568.5,283.6 568.7,295.4 568.8,238.9 569.0,259.2 569.1,322.0 569.3,183.8 569.5,253.0 569.6,418.9 569.8,332.8 570.0,265.0 570.1,259.9 570.3,211.9 570.4,343.1 570.6,215.6 570.8,223.4 570.9,209.4 571.1,322.5 571.3,215.8 571.4,199.3 571.6,323.4 571.7,246.1 571.9,358.1 572.1,209.6 572.2,335.5 572.4,332.5 572.6,308.1 572.7,215.8 572.9,304.4 573.1,327.9 573.2,256.6 573.4,235.5 573.5,326.8 573.7,116.8 573.9,140.7 574.0,137.0 574.2,333.2 574.4,349.2 574.5,197.6 574.7,159.1 574.8,337.4 575.0,287.7 575.2,196.0 575.3,139.1 575.5,102.8 575.7,338.1 575.8,230.7 576.0,312.3 576.1,339.7 576.3,339.4 576.5,467.9 576.6,154.4 576.8,392.0 577.0,95.7 577.1,198.4 577.3,235.7 577.4,189.4 577.6,381.8 577.8,233.6 577.9,249.0 578.1,320.3 578.3,432.3 578.4,191.9 578.6,230.5 578.7,378.0 578.9,253.3 579.1,168.1 579.2,196.3 579.4,225.2 579.6,413.1 579.7,195.9 579.9,211.2 580.0,323.7 580.2,387.2 580.4,330.4 580.5,186.0 580.7,408.2 580.9,503.5 581.0,226.8 581.2,200.3 581.3,357.3 581.5,136.9 581.7,204.7 581.8,192.6 582.0,386.0 582.2,179.9 582.3,181.2 582.5,180.2 582.6,363.6 582.8,364.9 583.0,153.3 583.1,434.7 583.3,327.8 583.5,219.4 583.6,511.8 583.8,191.9 584.0,420.4 584.1,379.4 584.3,300.5 584.4,116.5 584.6,392.6 584.8,329.1 584.9,190.0 585.1,210.9 585.3,260.4 585.4,439.7 585.6,217.0 585.7,232.8 585.9,358.0 586.1,340.6 586.2,131.0 586.4,249.6 586.6,372.2 586.7,347.0 586.9,204.9 587.0,433.7 587.2,332.7 587.4,352.9 587.5,167.0 587.7,142.9 587.9,360.3 588.0,321.0 588.2,186.4 588.3,161.0 588.5,347.8 588.7,295.7 588.8,187.7 589.0,167.8 589.2,372.9 589.3,312.9 589.5,208.4 589.6,210.6 589.8,362.8 590.0,300.3 590.1,237.3 590.3,186.6 590.5,95.4 590.6,343.1 590.8,174.3 590.9,182.8 591.1,330.5 591.3,194.0 591.4,206.5 591.6,420.4 591.8,342.2 591.9,124.5 592.1,244.5 592.2,206.4 592.4,363.2 592.6,357.0 592.7,352.9 592.9,188.0 593.1,384.3 593.2,302.1 593.4,239.4 593.5,236.7 593.7,408.5 593.9,325.4 594.0,242.9 594.2,272.2 594.4,332.9 594.5,163.6 594.7,242.0 594.9,255.1 595.0,263.4 595.2,297.8 595.3,231.2 595.5,284.0 595.7,375.9 595.8,297.2 596.0,214.8 596.2,217.1 596.3,188.9 596.5,236.0 596.6,212.8 596.8,306.2 597.0,356.5 597.1,347.8 597.3,201.1 597.5,220.0 597.6,294.6 597.8,397.2 597.9,336.6 598.1,151.8 598.3,319.5 598.4,311.5 598.6,188.0 598.8,243.2 598.9,182.2 599.1,313.6 599.2,222.5 599.4,205.1 599.6,331.9 599.7,344.8 599.9,263.9 600.1,232.6 600.2,358.1 600.4,304.6 600.5,220.5 600.7,115.9 600.9,324.7 601.0,341.5 601.2,278.8 601.4,151.3 601.5,249.2 601.7,165.1 601.8,304.1 602.0,272.1 602.2,323.7 602.3,422.8 602.5,172.4 602.7,160.6 602.8,114.7 603.0,314.5 603.1,191.7 603.3,217.6 603.5,325.7 603.6,325.9 603.8,240.5 604.0,144.4 604.1,304.3 604.3,324.6 604.4,266.5 604.6,398.1 604.8,313.8 604.9,300.4 605.1,319.5 605.3,278.0 605.4,280.7 605.6,298.9 605.8,269.4 605.9,263.3 606.1,305.0 606.2,276.0 606.4,180.3 606.6,317.2 606.7,168.1 606.9,258.1 607.1,331.4 607.2,266.3 607.4,318.3 607.5,293.8 607.7,236.5 607.9,248.7 608.0,315.4 608.2,306.1 608.4,265.8 608.5,281.0 608.7,321.7 608.8,321.5 609.0,218.5 609.2,255.3 609.3,309.5 609.5,324.7 609.7,306.1 609.8,313.1 610.0,481.8 610.1,292.0 610.3,234.3 610.5,243.5 610.6,291.9 610.8,327.0 611.0,259.7 611.1,228.2 611.3,341.7 611.4,340.5 611.6,261.1 611.8,143.8 611.9,337.8 612.1,349.2 612.3,258.5 612.4,308.7 612.6,190.7 612.7,315.6 612.9,242.5 613.1,199.5 613.2,176.5 613.4,329.8 613.6,153.3 613.7,238.5 613.9,297.7 614.0,309.5 614.2,197.3 614.4,172.4 614.5,309.2 614.7,401.1 614.9,169.6 615.0,218.3 615.2,333.7 615.3,342.1 615.5,232.0 615.7,201.0 615.8,134.0 616.0,300.0 616.2,294.4 616.3,217.8 616.5,220.5 616.7,338.9 616.8,216.6 617.0,338.9 617.1,349.2 617.3,327.5 617.5,207.3 617.6,188.9 617.8,232.9 618.0,214.2 618.1,266.0 618.3,229.0 618.4,255.9 618.6,318.9 618.8,275.7 618.9,268.9 619.1,412.1 619.3,246.5 619.4,165.1 619.6,232.0 619.7,315.8 619.9,331.3 620.1,269.1 620.2,207.3 620.4,295.1 620.6,291.5 620.7,194.8 620.9,251.7 621.0,329.5 621.2,408.5 621.4,241.3 621.5,182.9 621.7,337.9 621.9,317.9 622.0,221.8 622.2,204.8 622.3,319.2 622.5,241.3 622.7,230.5 622.8,212.7 623.0,330.2 623.2,341.0 623.3,240.3 623.5,205.7 623.6,349.2 623.8,285.4 624.0,193.9 624.1,329.8 624.3,302.7 624.5,210.0 624.6,212.9 624.8,243.1 624.9,324.9 625.1,242.6 625.3,224.0 625.4,196.9 625.6,301.0 625.8,311.7 625.9,337.3 626.1,264.8 626.2,328.0 626.4,305.7 626.6,306.9 626.7,330.3 626.9,310.4 627.1,310.3 627.2,212.8 627.4,241.2 627.6,330.3 627.7,152.7 627.9,309.5 628.0,242.2 628.2,306.4 628.4,378.8 628.5,230.8 628.7,266.0 628.9,274.8 629.0,343.2 629.2,255.9 629.3,256.6 629.5,296.8 629.7,314.0 629.8,194.8 630.0,262.4 630.2,347.6 630.3,307.3 630.5,364.0 630.6,257.7 630.8,351.4 631.0,327.2 631.1,221.3 631.3,251.6 631.5,343.7 631.6,287.8 631.8,210.3 631.9,154.1 632.1,236.5 632.3,309.7 632.4,224.1 632.6,206.2 632.8,396.7 632.9,341.1 633.1,219.2 633.2,238.0 633.4,298.9 633.6,331.8 633.7,181.4 633.9,245.2 634.1,219.6 634.2,230.0 634.4,203.1 634.5,261.1 634.7,296.3 634.9,349.2 635.0,223.5 635.2,235.3 635.4,312.3 635.5,308.9 635.7,234.2 635.8,174.6 636.0,311.7 636.2,293.6 636.3,239.5 636.5,312.7 636.7,313.2 636.8,234.2 637.0,254.0 637.1,214.1 637.3,328.4 637.5,313.8 637.6,320.2 637.8,197.8 638.0,287.9 638.1,230.1 638.3,265.7 638.5,282.2 638.6,297.0 638.8,283.8 638.9,224.8 639.1,220.2 639.3,292.7 639.4,253.2 639.6,212.6 639.8,247.5 639.9,321.0 640.1,301.6 640.2,381.2 640.4,255.2 640.6,249.1 640.7,309.9 640.9,247.9 641.1,247.0 641.2,265.9 641.4,313.9 641.5,315.7 641.7,252.5 641.9,334.9 642.0,202.2 642.2,245.4 642.4,230.4 642.5,347.3 642.7,389.8 642.8,312.0 643.0,214.7 643.2,321.7 643.3,318.1 643.5,217.4 643.7,232.4 643.8,357.4 644.0,369.9 644.1,223.4 644.3,223.4 644.5,330.6 644.6,134.0 644.8,386.3 645.0,328.1 645.1,305.3 645.3,333.3 645.4,230.6 645.6,225.3 645.8,325.7 645.9,318.6 646.1,215.6 646.3,247.1 646.4,330.9 646.6,329.1 646.7,372.9 646.9,238.1 647.1,226.0 647.2,339.7 647.4,248.9 647.6,347.6 647.7,348.6 647.9,337.2 648.0,350.1 648.2,209.6 648.4,352.9 648.5,348.7 648.7,243.9 648.9,224.9 649.0,330.7 649.2,364.0 649.4,248.5 649.5,231.3 649.7,289.4 649.8,318.7 650.0,228.6 650.2,220.5 650.3,194.2 650.5,305.7 650.7,309.1 650.8,212.3 651.0,242.6 651.1,393.7 651.3,312.2 651.5,236.1 651.6,321.5 651.8,231.7 652.0,263.2 652.1,271.0 652.3,319.3 652.4,159.8 652.6,260.2 652.8,317.0 652.9,300.6 653.1,256.0 653.3,255.8 653.4,241.9 653.6,331.4 653.7,324.2 653.9,260.1 654.1,235.6 654.2,312.6 654.4,305.9 654.6,230.4 654.7,265.7 654.9,325.3 655.0,276.9 655.2,266.6 655.4,250.6 655.5,302.0 655.7,318.6 655.9,248.9 656.0,262.0 656.2,363.1 656.3,285.3 656.5,231.9 656.7,274.2 656.8,305.4 657.0,240.7 657.2,309.6 657.3,251.4 657.5,248.1 657.6,246.5 657.8,259.5 658.0,269.4 658.1,306.3 658.3,303.6 658.5,255.8 658.6,233.4 658.8,334.3 658.9,297.3 659.1,267.2 659.3,257.8 659.4,290.6 659.6,269.9 659.8,256.9 659.9,264.0 660.1,292.1 660.3,252.0 660.4,251.8 660.6,278.0 660.7,214.1 660.9,293.5 661.1,265.8 661.2,262.9 661.4,299.0 661.6,370.5 661.7,226.5 661.9,271.3 662.0,288.0 662.2,320.8 662.4,233.2 662.5,291.3 662.7,312.4 662.9,311.9 663.0,233.8 663.2,227.8 663.3,171.7 663.5,309.2 663.7,254.4 663.8,296.4 664.0,233.3 664.2,305.9 664.3,259.2 664.5,312.0 664.6,312.7 664.8,310.4 665.0,236.5 665.1,245.4 665.3,303.7 665.5,227.4 665.6,267.8 665.8,249.6 665.9,299.1 666.1,293.8 666.3,238.0 666.4,306.1 666.6,314.2 666.8,317.4 666.9,218.5 667.1,358.1 667.2,329.8 667.4,316.9 667.6,269.3 667.7,273.1 667.9,317.1 668.1,332.7 668.2,271.8 668.4,264.3 668.5,313.8 668.7,340.8 668.9,257.4 669.0,178.5 669.2,286.6 669.4,241.6 669.5,239.7 669.7,243.4 669.8,419.2 670.0,343.8 670.2,328.2 670.3,221.1 670.5,338.5 670.7,255.8 670.8,314.8 671.0,304.2 671.2,340.8 671.3,205.8 671.5,225.0 671.6,329.9 671.8,323.1 672.0,330.3 672.1,238.7 672.3,358.1 672.5,329.2 672.6,314.7 672.8,223.3 672.9,235.1 673.1,212.6 673.3,301.8 673.4,221.7 673.6,234.7 673.8,336.1 673.9,348.0 674.1,294.5 674.2,306.8 674.4,330.7 674.6,314.8 674.7,276.2 674.9,314.3 675.1,336.7 675.2,149.1 675.4,273.5 675.5,316.5 675.7,344.3 675.9,417.4 676.0,208.5 676.2,384.8 676.4,335.3 676.5,305.1 676.7,360.3 676.8,203.8 677.0,354.7 677.2,383.6 677.3,150.9 677.5,263.8 677.7,362.4 677.8,294.0 678.0,218.1 678.1,398.1 678.3,283.2 678.5,302.8 678.6,398.1 678.8,236.7 679.0,297.7 679.1,182.9 679.3,257.8 679.4,278.2 679.6,334.1 679.8,315.4 679.9,273.5 680.1,346.1 680.3,352.7 680.4,354.9 680.6,352.7 680.7,174.0 680.9,364.0 681.1,343.9 681.2,208.3 681.4,305.2 681.6,334.6 681.7,338.5 681.9,233.1 682.1,307.0 682.2,320.3 682.4,316.2 682.5,276.8 682.7,315.7 682.9,313.7 683.0,185.9 683.2,368.5 683.4,213.5 683.5,240.3 683.7,318.6 683.8,257.3 684.0,208.3 684.2,325.2 684.3,318.6 684.5,210.2 684.7,220.0 684.8,318.6 685.0,310.1 685.1,142.9 685.3,192.5 685.5,369.9 685.6,331.6 685.8,203.5 686.0,206.9 686.1,292.8 686.3,236.5 686.4,346.8 686.6,233.3 686.8,357.5 686.9,341.0 687.1,317.3 687.3,250.5 687.4,319.5 687.6,129.5 687.7,232.8 687.9,405.6 688.1,346.5 688.2,335.8 688.4,209.1 688.6,365.7 688.7,243.2 688.9,252.1 689.0,234.2 689.2,228.7 689.4,355.1 689.5,193.3 689.7,381.8 689.9,235.9 690.0,344.5 690.2,346.7 690.3,208.0 690.5,304.9 690.7,361.4 690.8,321.9 691.0,260.6 691.2,203.1 691.3,437.6 691.5,380.2 691.6,238.2 691.8,243.7 692.0,180.0 692.1,330.5 692.3,242.2 692.5,300.7 692.6,372.6 692.8,384.5 693.0,285.8 693.1,238.1 693.3,372.1 693.4,351.7 693.6,254.8 693.8,412.1 693.9,305.2 694.1,270.8 694.3,299.3 694.4,165.7 694.6,321.8 694.7,333.5 694.9,232.6 695.1,328.8 695.2,338.0 695.4,215.5 695.6,349.2 695.7,287.2 695.9,329.6 696.0,303.9 696.2,210.1 696.4,194.8 696.5,328.0 696.7,312.2 696.9,272.1 697.0,204.0 697.2,259.9 697.3,286.8 697.5,213.2 697.7,241.6 697.8,287.8 698.0,140.8 698.2,337.3 698.3,258.5 698.5,308.3 698.6,321.6 698.8,195.4 699.0,305.5 699.1,317.5 699.3,322.2 699.5,325.2 699.6,226.5 699.8,325.1 699.9,182.9 700.1,216.6 700.3,222.5 700.4,232.6 700.6,327.7 700.8,306.5 700.9,385.4 701.1,317.4 701.2,267.0 701.4,227.9 701.6,287.4 701.7,195.4 701.9,311.0 702.1,219.7 702.2,260.8 702.4,327.0 702.5,321.8 702.7,234.1 702.9,217.0 703.0,293.0 703.2,343.2 703.4,303.1 703.5,251.1 703.7,315.6 703.9,204.6 704.0,294.2 704.2,312.8 704.3,324.2 704.5,277.4 704.7,310.3 704.8,256.8 705.0,326.7 705.2,329.6 705.3,402.6 705.5,219.0 705.6,335.7 705.8,223.3 706.0,261.2 706.1,237.3 706.3,169.6 706.5,352.9 706.6,210.5 706.8,449.5 706.9,383.2 707.1,363.5 707.3,318.9 707.4,205.8 707.6,228.5 707.8,367.2 707.9,366.5 708.1,182.9 708.2,358.9 708.4,244.8 708.6,229.8 708.7,223.3 708.9,399.6 709.1,253.9 709.2,217.3 709.4,230.8 709.5,357.9 709.7,255.6 709.9,142.0 710.0,250.3 710.2,336.7 710.4,337.3 710.5,226.8 710.7,340.3 710.8,381.3 711.0,428.7 711.2,185.4 711.3,209.7 711.5,157.7 711.7,288.5 711.8,282.9 712.0,217.2 712.1,285.0 712.3,282.3 712.5,291.1 712.6,286.5 712.8,284.8 713.0,294.4 713.1,193.3 713.3,349.2 713.4,327.0 713.6,288.3 713.8,238.0 713.9,219.7 714.1,319.5 714.3,310.8 714.4,236.9 714.6,327.7 714.8,310.9 714.9,333.8 715.1,211.1 715.2,276.5 715.4,269.9 715.6,321.7 715.7,386.3 715.9,299.3 716.1,325.3 716.2,329.0 716.4,256.7 716.5,297.6 716.7,323.2 716.9,315.8 717.0,261.2 717.2,230.4 717.4,326.2 717.5,285.5 717.7,271.9 717.8,326.3 718.0,313.2 718.2,334.3 718.3,244.4 718.5,305.4 718.7,248.0 718.8,309.6 719.0,291.9 719.1,290.6 719.3,150.9 719.5,325.2 719.6,232.8 719.8,249.2 720.0,295.6 720.1,327.8 720.3,231.1 720.4,277.4 720.6,317.4 720.8,113.2 720.9,242.3 721.1,407.9 721.3,299.0 721.4,307.1 721.6,352.1 721.7,226.5 721.9,334.1 722.1,358.4 722.2,197.9 722.4,368.9 722.6,360.4 722.7,326.9 722.9,184.4 723.0,250.4 723.2,387.7 723.4,357.1 723.5,218.7 723.7,299.1 723.9,358.4 724.0,254.1 724.2,223.2 724.3,144.4 724.5,323.5 724.7,329.7 724.8,162.2 725.0,221.9 725.2,396.7 725.3,328.7 725.5,209.5 725.7,207.0 725.8,384.6 726.0,173.1 726.1,115.3 726.3,190.8 726.5,288.7 726.6,265.5 726.8,356.5 727.0,359.3 727.1,317.3 727.3,405.6 727.4,340.8 727.6,230.5 727.8,243.0 727.9,343.8 728.1,220.6 728.3,127.4 728.4,266.3 728.6,358.6 728.7,258.3 728.9,255.6 729.1,364.7 729.2,383.8 729.4,250.8 729.6,243.1 729.7,218.5 729.9,428.1 730.0,261.7 730.2,248.9 730.4,255.4 730.5,321.4 730.7,310.7 730.9,245.5 731.0,320.5 731.2,330.3 731.3,335.3 731.5,199.3 731.7,387.7 731.8,371.1 732.0,237.7 732.2,272.4 732.3,363.0 732.5,341.4 732.6,221.1 732.8,217.8 733.0,302.0 733.1,336.5 733.3,223.0 733.5,203.7 733.6,244.7 733.8,342.9 733.9,376.5 734.1,322.1 734.3,261.5 734.4,363.1 734.6,228.1 734.8,272.1 734.9,237.2 735.1,215.6 735.2,406.1 735.4,262.7 735.6,287.8 735.7,291.7 735.9,248.6 736.1,261.1 736.2,289.1 736.4,259.6 736.6,268.7 736.7,288.4 736.9,224.3 737.0,166.6 737.2,358.1 737.4,232.8 737.5,211.2 737.7,324.2 737.9,253.2 738.0,230.2 738.2,316.4 738.3,300.3 738.5,333.7 738.7,252.4 738.8,348.6 739.0,320.3 739.2,183.8 739.3,260.7 739.5,397.2 739.6,304.1 739.8,255.9 740.0,245.3 740.1,322.0 740.3,316.2 740.5,249.2 740.6,294.4 740.8,318.8 740.9,211.1 741.1,228.7 741.3,219.9 741.4,324.8 741.6,252.3 741.8,241.6 741.9,334.3 742.1,322.1 742.2,309.6 742.4,208.7 742.6,246.1 742.7,315.4 742.9,237.6 743.1,235.0 743.2,237.1 743.4,328.8 743.5,227.4 743.7,252.8 743.9,343.2 744.0,332.5 744.2,326.8 744.4,246.5 744.5,265.1 744.7,327.3 744.8,334.0 745.0,252.9 745.2,241.4 745.3,250.8 745.5,306.5 745.7,243.6 745.8,250.9 746.0,360.2 746.1,325.1 746.3,249.5 746.5,263.1 746.6,321.5 746.8,314.5" fill="none" stroke="#0072BD" stroke-width="1.4" stroke-linejoin="round"/>
<rect x="896.9" y="18.8" width="679.70" height="535.10" fill="none" stroke="#2a2a2a" stroke-width="1.1"/>
<text x="887.40" y="561.90" text-anchor="end" class="t">-0.25</text>
<text x="887.40" y="508.39" text-anchor="end" class="t">-0.2</text>
<text x="887.40" y="454.88" text-anchor="end" class="t">-0.15</text>
<text x="887.40" y="401.37" text-anchor="end" class="t">-0.1</text>
<text x="887.40" y="347.86" text-anchor="end" class="t">-0.05</text>
<text x="887.40" y="294.35" text-anchor="end" class="t">0</text>
<text x="887.40" y="240.84" text-anchor="end" class="t">0.05</text>
<text x="887.40" y="187.33" text-anchor="end" class="t">0.1</text>
<text x="887.40" y="133.82" text-anchor="end" class="t">0.15</text>
<text x="887.40" y="80.31" text-anchor="end" class="t">0.2</text>
<text x="887.40" y="26.80" text-anchor="end" class="t">0.25</text>
<text x="896.50" y="583.90" text-anchor="middle" class="t">0</text>
<text x="993.60" y="583.90" text-anchor="middle" class="t">0.05</text>
<text x="1090.70" y="583.90" text-anchor="middle" class="t">0.1</text>
<text x="1187.80" y="583.90" text-anchor="middle" class="t">0.15</text>
<text x="1284.90" y="583.90" text-anchor="middle" class="t">0.2</text>
<text x="1382.00" y="583.90" text-anchor="middle" class="t">0.25</text>
<text x="1479.10" y="583.90" text-anchor="middle" class="t">0.3</text>
<text x="1576.20" y="583.90" text-anchor="middle" class="t">0.35</text>
<path d="M896.9,500.39h7.5M1576.6,500.39h-7.5M896.9,446.88h7.5M1576.6,446.88h-7.5M896.9,393.37h7.5M1576.6,393.37h-7.5M896.9,339.86h7.5M1576.6,339.86h-7.5M896.9,286.35h7.5M1576.6,286.35h-7.5M896.9,232.84h7.5M1576.6,232.84h-7.5M896.9,179.33h7.5M1576.6,179.33h-7.5M896.9,125.82h7.5M1576.6,125.82h-7.5M896.9,72.31h7.5M1576.6,72.31h-7.5M994.00,553.9v-7.5M994.00,18.8v7.5M1091.10,553.9v-7.5M1091.10,18.8v7.5M1188.20,553.9v-7.5M1188.20,18.8v7.5M1285.30,553.9v-7.5M1285.30,18.8v7.5M1382.40,553.9v-7.5M1382.40,18.8v7.5M1479.50,553.9v-7.5M1479.50,18.8v7.5" fill="none" stroke="#2a2a2a" stroke-width="1.1"/>
<path d="M897.0,84.5 897.3,84.8 897.6,342.8 897.9,358.1 898.2,243.1 898.4,239.8 898.7,307.2 899.0,295.3 899.3,258.7 899.6,235.2 899.9,197.9 900.2,304.4 900.5,137.7 900.8,404.1 901.0,315.6 901.3,324.4 901.6,336.5 901.9,326.3 902.2,314.2 902.5,194.0 902.8,343.2 903.1,259.4 903.3,331.4 903.6,251.0 903.9,266.5 904.2,332.5 904.5,240.0 904.8,340.3 905.1,276.6 905.4,295.1 905.7,271.6 905.9,321.3 906.2,253.9 906.5,248.9 906.8,314.8 907.1,307.4 907.4,196.1 907.7,328.4 908.0,320.7 908.3,308.5 908.5,245.2 908.8,255.4 909.1,251.5 909.4,306.7 909.7,352.1 910.0,264.4 910.3,313.5 910.6,237.1 910.8,276.4 911.1,281.0 911.4,333.4 911.7,321.9 912.0,409.1 912.3,246.9 912.6,317.0 912.9,339.2 913.2,186.9 913.4,243.4 913.7,315.2 914.0,305.4 914.3,365.5 914.6,269.5 914.9,337.7 915.2,229.6 915.5,282.3 915.8,349.6 916.0,302.2 916.3,375.9 916.6,254.3 916.9,248.9 917.2,332.7 917.5,163.8 917.8,210.8 918.1,382.4 918.4,347.5 918.6,341.9 918.9,185.1 919.2,262.3 919.5,354.2 919.8,345.3 920.1,297.4 920.4,253.2 920.7,421.6 920.9,116.0 921.2,283.8 921.5,266.8 921.8,290.5 922.1,360.0 922.4,276.1 922.7,238.5 923.0,378.8 923.3,260.9 923.5,265.9 923.8,280.3 924.1,181.3 924.4,322.1 924.7,377.4 925.0,288.9 925.3,305.0 925.6,309.7 925.9,324.2 926.1,208.9 926.4,358.1 926.7,314.9 927.0,220.8 927.3,218.4 927.6,412.1 927.9,304.9 928.2,188.1 928.4,211.7 928.7,294.9 929.0,261.1 929.3,180.7 929.6,236.8 929.9,343.2 930.2,318.4 930.5,230.9 930.8,276.8 931.0,321.0 931.3,214.8 931.6,273.3 931.9,259.9 932.2,312.2 932.5,305.3 932.8,144.5 933.1,211.9 933.4,210.7 933.6,424.8 933.9,191.1 934.2,238.6 934.5,330.7 934.8,316.6 935.1,205.3 935.4,275.1 935.7,79.8 935.9,319.8 936.2,171.8 936.5,510.3 936.8,385.8 937.1,127.9 937.4,320.4 937.7,283.1 938.0,423.0 938.3,117.5 938.5,483.6 938.8,263.0 939.1,311.0 939.4,321.9 939.7,272.3 940.0,231.2 940.3,223.7 940.6,331.4 940.9,260.6 941.1,270.2 941.4,318.4 941.7,294.6 942.0,220.7 942.3,315.1 942.6,347.7 942.9,329.8 943.2,231.6 943.5,262.9 943.7,302.7 944.0,220.1 944.3,245.1 944.6,228.3 944.9,364.0 945.2,321.8 945.5,227.8 945.8,261.0 946.0,202.9 946.3,243.5 946.6,252.4 946.9,334.3 947.2,313.5 947.5,293.7 947.8,164.7 948.1,305.0 948.4,223.8 948.6,314.9 948.9,219.8 949.2,388.6 949.5,176.2 949.8,318.2 950.1,274.0 950.4,219.1 950.7,376.2 951.0,292.1 951.2,127.9 951.5,225.3 951.8,358.9 952.1,399.0 952.4,226.0 952.7,256.9 953.0,272.3 953.3,344.3 953.5,202.9 953.8,400.2 954.1,331.5 954.4,350.6 954.7,217.9 955.0,256.9 955.3,204.4 955.6,406.4 955.9,261.3 956.1,326.1 956.4,262.0 956.7,342.1 957.0,99.7 957.3,358.1 957.6,331.1 957.9,307.6 958.2,237.9 958.5,237.6 958.7,165.8 959.0,289.9 959.3,229.2 959.6,378.3 959.9,311.0 960.2,168.8 960.5,232.4 960.8,219.8 961.1,312.3 961.3,308.8 961.6,372.9 961.9,249.0 962.2,302.9 962.5,183.1 962.8,297.7 963.1,296.0 963.4,304.1 963.6,315.4 963.9,349.2 964.2,276.9 964.5,293.8 964.8,250.4 965.1,265.9 965.4,273.4 965.7,323.6 966.0,267.8 966.2,327.7 966.5,340.4 966.8,394.6 967.1,197.6 967.4,261.0 967.7,218.1 968.0,334.5 968.3,306.3 968.6,253.3 968.8,262.2 969.1,123.1 969.4,359.6 969.7,177.8 970.0,212.3 970.3,315.0 970.6,149.5 970.9,234.1 971.1,436.1 971.4,300.0 971.7,312.8 972.0,313.2 972.3,259.5 972.6,94.0 972.9,302.6 973.2,249.2 973.5,381.8 973.7,335.5 974.0,330.9 974.3,208.6 974.6,172.7 974.9,293.5 975.2,413.0 975.5,203.2 975.8,199.2 976.1,177.7 976.3,341.9 976.6,278.0 976.9,326.9 977.2,307.7 977.5,355.1 977.8,264.5 978.1,232.2 978.4,221.6 978.7,331.8 978.9,272.6 979.2,252.7 979.5,252.0 979.8,239.7 980.1,338.8 980.4,185.4 980.7,293.1 981.0,304.1 981.2,226.8 981.5,295.1 981.8,309.3 982.1,201.4 982.4,328.4 982.7,279.5 983.0,313.2 983.3,307.9 983.6,272.0 983.8,271.7 984.1,313.6 984.4,312.7 984.7,334.3 985.0,273.2 985.3,313.2 985.6,279.4 985.9,278.1 986.2,226.7 986.4,312.2 986.7,242.9 987.0,249.8 987.3,317.6 987.6,359.6 987.9,327.4 988.2,170.6 988.5,269.5 988.7,344.0 989.0,221.4 989.3,344.1 989.6,319.2 989.9,369.4 990.2,267.3 990.5,201.4 990.8,329.3 991.1,349.3 991.3,250.1 991.6,253.4 991.9,247.7 992.2,238.5 992.5,364.0 992.8,249.0 993.1,263.9 993.4,318.8 993.7,304.8 993.9,277.2 994.2,251.3 994.5,302.8 994.8,137.7 995.1,263.4 995.4,254.3 995.7,296.7 996.0,404.1 996.2,349.9 996.5,276.0 996.8,154.9 997.1,274.2 997.4,266.5 997.7,310.0 998.0,322.0 998.3,377.4 998.6,272.0 998.8,238.5 999.1,352.3 999.4,260.6 999.7,322.3 1000.0,350.8 1000.3,336.3 1000.6,179.2 1000.9,402.0 1001.2,261.4 1001.4,359.8 1001.7,348.2 1002.0,135.0 1002.3,259.0 1002.6,257.3 1002.9,380.3 1003.2,253.2 1003.5,271.9 1003.8,310.0 1004.0,357.7 1004.3,247.4 1004.6,273.2 1004.9,300.4 1005.2,299.1 1005.5,371.4 1005.8,263.6 1006.1,267.8 1006.3,244.5 1006.6,255.5 1006.9,335.1 1007.2,284.3 1007.5,309.1 1007.8,359.6 1008.1,251.0 1008.4,300.8 1008.7,297.0 1008.9,172.7 1009.2,276.0 1009.5,264.6 1009.8,252.2 1010.1,251.4 1010.4,312.8 1010.7,205.8 1011.0,322.6 1011.3,329.6 1011.5,383.3 1011.8,191.7 1012.1,266.8 1012.4,357.9 1012.7,252.4 1013.0,323.1 1013.3,274.3 1013.6,208.9 1013.8,216.8 1014.1,316.6 1014.4,393.7 1014.7,276.1 1015.0,252.4 1015.3,228.7 1015.6,295.1 1015.9,141.8 1016.2,218.0 1016.4,375.4 1016.7,429.3 1017.0,220.3 1017.3,186.6 1017.6,329.0 1017.9,246.7 1018.2,262.4 1018.5,396.7 1018.8,294.4 1019.0,214.8 1019.3,246.3 1019.6,290.3 1019.9,293.7 1020.2,436.1 1020.5,300.9 1020.8,259.5 1021.1,292.7 1021.4,96.7 1021.6,221.3 1021.9,202.6 1022.2,309.3 1022.5,367.0 1022.8,203.5 1023.1,182.2 1023.4,241.1 1023.7,310.6 1023.9,279.7 1024.2,249.8 1024.5,281.6 1024.8,292.8 1025.1,253.9 1025.4,263.3 1025.7,390.1 1026.0,204.3 1026.3,185.1 1026.5,249.2 1026.8,350.8 1027.1,294.0 1027.4,261.7 1027.7,358.1 1028.0,238.5 1028.3,297.1 1028.6,256.8 1028.9,266.9 1029.1,291.8 1029.4,337.3 1029.7,255.1 1030.0,211.8 1030.3,321.5 1030.6,295.5 1030.9,239.6 1031.2,252.8 1031.4,322.9 1031.7,156.9 1032.0,410.9 1032.3,256.3 1032.6,291.0 1032.9,288.6 1033.2,315.7 1033.5,253.8 1033.8,247.4 1034.0,317.1 1034.3,358.1 1034.6,263.5 1034.9,321.0 1035.2,314.1 1035.5,254.0 1035.8,260.9 1036.1,198.5 1036.4,245.8 1036.6,349.2 1036.9,253.3 1037.2,296.4 1037.5,296.6 1037.8,284.2 1038.1,208.9 1038.4,293.1 1038.7,401.1 1039.0,277.2 1039.2,230.6 1039.5,350.7 1039.8,338.4 1040.1,188.7 1040.4,226.7 1040.7,324.7 1041.0,383.3 1041.3,235.4 1041.5,219.8 1041.8,289.9 1042.1,202.9 1042.4,228.3 1042.7,291.5 1043.0,300.6 1043.3,192.0 1043.6,344.7 1043.9,273.2 1044.1,301.2 1044.4,317.9 1044.7,244.6 1045.0,299.0 1045.3,297.7 1045.6,299.3 1045.9,237.1 1046.2,261.6 1046.5,355.1 1046.7,295.4 1047.0,317.1 1047.3,258.8 1047.6,342.7 1047.9,281.8 1048.2,180.7 1048.5,264.3 1048.8,341.7 1049.0,335.1 1049.3,404.1 1049.6,273.5 1049.9,347.5 1050.2,359.3 1050.5,250.5 1050.8,239.4 1051.1,314.7 1051.4,374.4 1051.6,270.5 1051.9,249.8 1052.2,238.5 1052.5,254.3 1052.8,249.7 1053.1,310.0 1053.4,320.4 1053.7,328.4 1054.0,269.2 1054.2,101.4 1054.5,195.8 1054.8,299.8 1055.1,174.6 1055.4,185.0 1055.7,259.6 1056.0,300.5 1056.3,117.8 1056.5,205.3 1056.8,389.2 1057.1,348.8 1057.4,228.1 1057.7,271.8 1058.0,159.9 1058.3,251.9 1058.6,390.7 1058.9,243.0 1059.1,312.8 1059.4,377.0 1059.7,194.0 1060.0,272.1 1060.3,392.2 1060.6,333.1 1060.9,319.9 1061.2,268.7 1061.5,235.2 1061.7,299.6 1062.0,133.5 1062.3,407.6 1062.6,353.2 1062.9,356.6 1063.2,161.3 1063.5,202.3 1063.8,359.0 1064.1,101.2 1064.3,205.6 1064.6,378.8 1064.9,316.7 1065.2,306.3 1065.5,204.2 1065.8,205.4 1066.1,306.2 1066.4,173.3 1066.6,399.0 1066.9,250.1 1067.2,358.8 1067.5,346.9 1067.8,201.3 1068.1,456.9 1068.4,128.7 1068.7,369.4 1069.0,235.9 1069.2,222.7 1069.5,245.7 1069.8,363.2 1070.1,174.7 1070.4,406.1 1070.7,383.8 1071.0,368.5 1071.3,214.1 1071.6,432.3 1071.8,401.9 1072.1,144.5 1072.4,216.4 1072.7,411.6 1073.0,217.2 1073.3,440.6 1073.6,205.9 1073.9,271.8 1074.1,298.6 1074.4,365.5 1074.7,236.6 1075.0,214.8 1075.3,389.2 1075.6,245.6 1075.9,232.3 1076.2,240.3 1076.5,228.5 1076.7,251.2 1077.0,144.2 1077.3,358.1 1077.6,346.8 1077.9,321.8 1078.2,195.8 1078.5,241.4 1078.8,332.4 1079.1,179.2 1079.3,375.0 1079.6,217.7 1079.9,311.1 1080.2,315.4 1080.5,313.1 1080.8,126.4 1081.1,319.0 1081.4,365.5 1081.7,238.3 1081.9,146.9 1082.2,338.5 1082.5,124.9 1082.8,242.7 1083.1,398.1 1083.4,323.2 1083.7,374.2 1084.0,236.0 1084.2,188.1 1084.5,233.6 1084.8,449.5 1085.1,222.4 1085.4,344.5 1085.7,304.0 1086.0,233.4 1086.3,146.6 1086.6,378.8 1086.8,317.5 1087.1,312.1 1087.4,334.7 1087.7,261.5 1088.0,305.0 1088.3,238.5 1088.6,278.4 1088.9,348.0 1089.2,385.4 1089.4,271.6 1089.7,268.1 1090.0,266.4 1090.3,308.3 1090.6,282.2 1090.9,352.1 1091.2,136.2 1091.5,301.0 1091.7,313.1 1092.0,180.6 1092.3,293.4 1092.6,227.3 1092.9,164.4 1093.2,403.5 1093.5,248.2 1093.8,334.7 1094.1,203.3 1094.3,182.2 1094.6,233.3 1094.9,333.6 1095.2,331.2 1095.5,330.6 1095.8,360.2 1096.1,352.1 1096.4,310.5 1096.7,177.7 1096.9,253.8 1097.2,301.3 1097.5,305.1 1097.8,245.6 1098.1,407.0 1098.4,311.6 1098.7,305.6 1099.0,243.2 1099.3,259.5 1099.5,220.7 1099.8,275.4 1100.1,434.6 1100.4,274.3 1100.7,320.7 1101.0,312.4 1101.3,243.3 1101.6,259.6 1101.8,304.0 1102.1,229.6 1102.4,337.3 1102.7,304.2 1103.0,270.7 1103.3,300.5 1103.6,249.8 1103.9,302.6 1104.2,291.1 1104.4,362.5 1104.7,237.7 1105.0,237.3 1105.3,174.7 1105.6,303.2 1105.9,242.6 1106.2,260.9 1106.5,309.8 1106.8,349.2 1107.0,194.4 1107.3,253.4 1107.6,324.7 1107.9,331.2 1108.2,250.1 1108.5,173.3 1108.8,332.7 1109.1,383.3 1109.3,271.6 1109.6,235.9 1109.9,236.8 1110.2,307.8 1110.5,214.8 1110.8,338.5 1111.1,251.7 1111.4,364.0 1111.7,271.1 1111.9,340.0 1112.2,337.3 1112.5,303.1 1112.8,270.8 1113.1,266.6 1113.4,205.0 1113.7,301.1 1114.0,259.6 1114.3,402.6 1114.5,260.3 1114.8,334.4 1115.1,247.7 1115.4,325.1 1115.7,210.4 1116.0,341.6 1116.3,358.1 1116.6,220.4 1116.8,328.3 1117.1,222.7 1117.4,241.2 1117.7,167.9 1118.0,317.4 1118.3,342.8 1118.6,242.5 1118.9,352.1 1119.2,304.0 1119.4,303.7 1119.7,211.8 1120.0,246.3 1120.3,228.1 1120.6,301.1 1120.9,246.2 1121.2,268.3 1121.5,310.6 1121.8,210.4 1122.0,375.9 1122.3,307.7 1122.6,268.2 1122.9,349.6 1123.2,249.2 1123.5,274.8 1123.8,347.2 1124.1,223.7 1124.4,397.5 1124.6,326.8 1124.9,248.7 1125.2,306.0 1125.5,246.8 1125.8,235.6 1126.1,294.9 1126.4,307.3 1126.7,331.4 1126.9,276.9 1127.2,304.5 1127.5,311.5 1127.8,311.4 1128.1,279.5 1128.4,307.6 1128.7,316.9 1129.0,275.1 1129.3,310.1 1129.5,295.2 1129.8,223.7 1130.1,238.9 1130.4,257.4 1130.7,317.3 1131.0,314.9 1131.3,332.9 1131.6,298.6 1131.9,256.8 1132.1,208.0 1132.4,255.4 1132.7,279.0 1133.0,259.7 1133.3,260.9 1133.6,387.2 1133.9,262.8 1134.2,249.9 1134.4,240.0 1134.7,317.0 1135.0,319.2 1135.3,317.8 1135.6,306.7 1135.9,282.9 1136.2,285.7 1136.5,291.0 1136.8,214.8 1137.0,263.3 1137.3,272.8 1137.6,238.3 1137.9,305.1 1138.2,297.7 1138.5,253.7 1138.8,230.2 1139.1,311.6 1139.4,273.2 1139.6,294.0 1139.9,312.0 1140.2,301.7 1140.5,302.4 1140.8,282.3 1141.1,304.4 1141.4,275.2 1141.7,263.5 1142.0,255.8 1142.2,257.0 1142.5,165.8 1142.8,221.2 1143.1,273.2 1143.4,314.5 1143.7,309.7 1144.0,372.9 1144.3,226.1 1144.5,180.7 1144.8,347.1 1145.1,266.6 1145.4,312.3 1145.7,350.2 1146.0,359.6 1146.3,155.5 1146.6,266.8 1146.9,341.6 1147.1,307.7 1147.4,255.4 1147.7,256.1 1148.0,329.5 1148.3,247.4 1148.6,258.9 1148.9,322.0 1149.2,402.6 1149.5,326.4 1149.7,256.5 1150.0,276.0 1150.3,264.2 1150.6,344.5 1150.9,154.0 1151.2,310.4 1151.5,398.1 1151.8,314.1 1152.0,189.2 1152.3,260.3 1152.6,174.7 1152.9,342.0 1153.2,270.3 1153.5,368.5 1153.8,182.2 1154.1,332.1 1154.4,244.4 1154.6,254.8 1154.9,193.5 1155.2,355.9 1155.5,129.3 1155.8,382.7 1156.1,354.1 1156.4,331.0 1156.7,240.6 1157.0,164.4 1157.2,398.1 1157.5,318.9 1157.8,232.8 1158.1,233.6 1158.4,352.5 1158.7,200.0 1159.0,335.4 1159.3,272.5 1159.6,371.4 1159.8,329.8 1160.1,285.5 1160.4,324.6 1160.7,314.3 1161.0,234.1 1161.3,305.5 1161.6,270.5 1161.9,337.3 1162.1,297.4 1162.4,247.4 1162.7,249.8 1163.0,319.5 1163.3,238.5 1163.6,249.6 1163.9,362.5 1164.2,328.5 1164.5,350.5 1164.7,260.7 1165.0,198.5 1165.3,310.7 1165.6,421.3 1165.9,243.6 1166.2,249.5 1166.5,320.3 1166.8,177.1 1167.1,258.6 1167.3,351.2 1167.6,423.4 1167.9,347.9 1168.2,186.6 1168.5,200.0 1168.8,356.2 1169.1,222.6 1169.4,201.1 1169.6,130.2 1169.9,435.2 1170.2,331.9 1170.5,217.8 1170.8,252.0 1171.1,340.4 1171.4,200.0 1171.7,273.1 1172.0,273.6 1172.2,359.6 1172.5,303.2 1172.8,305.2 1173.1,197.6 1173.4,337.2 1173.7,330.5 1174.0,227.1 1174.3,389.2 1174.6,328.8 1174.8,329.3 1175.1,217.8 1175.4,244.2 1175.7,331.0 1176.0,322.2 1176.3,255.2 1176.6,355.1 1176.9,294.8 1177.1,318.2 1177.4,182.8 1177.7,273.6 1178.0,224.5 1178.3,327.6 1178.6,251.6 1178.9,202.9 1179.2,335.8 1179.5,330.5 1179.7,252.0 1180.0,219.5 1180.3,323.2 1180.6,289.5 1180.9,192.5 1181.2,246.2 1181.5,291.0 1181.8,388.6 1182.1,243.4 1182.3,256.8 1182.6,293.9 1182.9,273.8 1183.2,210.4 1183.5,296.7 1183.8,291.8 1184.1,270.5 1184.4,466.4 1184.7,223.9 1184.9,358.1 1185.2,380.2 1185.5,195.5 1185.8,238.9 1186.1,393.7 1186.4,320.0 1186.7,227.3 1187.0,244.6 1187.2,317.4 1187.5,100.0 1187.8,459.6 1188.1,186.7 1188.4,313.5 1188.7,185.3 1189.0,149.5 1189.3,271.7 1189.6,193.0 1189.8,372.9 1190.1,338.6 1190.4,167.3 1190.7,351.6 1191.0,246.5 1191.3,348.0 1191.6,194.5 1191.9,319.1 1192.2,135.9 1192.4,385.4 1192.7,173.5 1193.0,337.1 1193.3,201.6 1193.6,279.2 1193.9,127.9 1194.2,345.2 1194.5,378.8 1194.7,242.0 1195.0,253.9 1195.3,268.9 1195.6,318.5 1195.9,226.1 1196.2,270.5 1196.5,358.1 1196.8,296.3 1197.1,267.3 1197.3,255.0 1197.6,318.7 1197.9,312.3 1198.2,238.5 1198.5,316.3 1198.8,243.8 1199.1,320.6 1199.4,245.0 1199.7,229.6 1199.9,327.0 1200.2,434.6 1200.5,289.4 1200.8,255.1 1201.1,333.0 1201.4,308.2 1201.7,277.2 1202.0,139.1 1202.3,295.9 1202.5,349.2 1202.8,267.6 1203.1,179.4 1203.4,267.8 1203.7,140.6 1204.0,196.6 1204.3,213.9 1204.6,258.3 1204.8,137.1 1205.1,395.2 1205.4,205.5 1205.7,227.0 1206.0,279.1 1206.3,192.1 1206.6,153.1 1206.9,71.8 1207.2,496.7 1207.4,224.9 1207.7,208.8 1208.0,309.4 1208.3,179.2 1208.6,393.7 1208.9,227.9 1209.2,294.3 1209.5,368.1 1209.8,281.4 1210.0,214.8 1210.3,343.6 1210.6,422.8 1210.9,256.1 1211.2,225.0 1211.5,311.9 1211.8,148.0 1212.1,235.8 1212.3,261.6 1212.6,245.8 1212.9,369.9 1213.2,225.3 1213.5,251.2 1213.8,169.7 1214.1,322.6 1214.4,256.8 1214.7,242.6 1214.9,197.9 1215.2,321.8 1215.5,318.9 1215.8,145.7 1216.1,338.8 1216.4,330.9 1216.7,250.2 1217.0,215.4 1217.3,202.9 1217.5,324.6 1217.8,243.4 1218.1,238.7 1218.4,308.5 1218.7,235.8 1219.0,386.3 1219.3,229.4 1219.6,349.8 1219.9,349.4 1220.1,181.6 1220.4,248.7 1220.7,296.2 1221.0,358.1 1221.3,264.7 1221.6,262.3 1221.9,296.9 1222.2,306.5 1222.4,262.6 1222.7,241.5 1223.0,341.3 1223.3,270.9 1223.6,372.9 1223.9,274.0 1224.2,350.5 1224.5,250.4 1224.8,274.1 1225.0,278.2 1225.3,256.2 1225.6,289.3 1225.9,305.1 1226.2,378.8 1226.5,161.7 1226.8,324.8 1227.1,267.2 1227.4,233.6 1227.6,326.2 1227.9,328.9 1228.2,176.0 1228.5,146.6 1228.8,349.2 1229.1,303.3 1229.4,232.6 1229.7,155.5 1229.9,333.6 1230.2,305.1 1230.5,443.2 1230.8,109.8 1231.1,328.8 1231.4,202.9 1231.7,234.1 1232.0,196.3 1232.3,185.1 1232.5,269.5 1232.8,257.5 1233.1,369.9 1233.4,312.0 1233.7,312.3 1234.0,265.2 1234.3,259.5 1234.6,253.4 1234.9,316.9 1235.1,269.9 1235.4,421.9 1235.7,311.1 1236.0,334.4 1236.3,279.9 1236.6,201.4 1236.9,280.5 1237.2,327.3 1237.4,326.0 1237.7,267.0 1238.0,386.3 1238.3,279.8 1238.6,226.7 1238.9,234.9 1239.2,290.9 1239.5,286.4 1239.8,238.2 1240.0,266.7 1240.3,328.4 1240.6,317.3 1240.9,250.7 1241.2,278.3 1241.5,187.2 1241.8,295.5 1242.1,263.4 1242.4,291.5 1242.6,301.8 1242.9,305.4 1243.2,262.5 1243.5,270.8 1243.8,281.0 1244.1,310.4 1244.4,274.1 1244.7,308.5 1245.0,287.0 1245.2,302.5 1245.5,260.4 1245.8,253.4 1246.1,314.7 1246.4,384.8 1246.7,278.2 1247.0,303.5 1247.3,327.3 1247.5,295.7 1247.8,214.8 1248.1,307.2 1248.4,321.1 1248.7,299.4 1249.0,271.4 1249.3,417.4 1249.6,208.0 1249.9,334.8 1250.1,215.9 1250.4,301.9 1250.7,309.3 1251.0,157.8 1251.3,349.2 1251.6,261.3 1251.9,327.3 1252.2,316.3 1252.5,244.2 1252.7,214.8 1253.0,227.9 1253.3,293.9 1253.6,294.7 1253.9,241.7 1254.2,300.5 1254.5,380.3 1254.8,233.5 1255.0,196.4 1255.3,317.6 1255.6,300.2 1255.9,262.8 1256.2,281.3 1256.5,295.3 1256.8,346.2 1257.1,253.4 1257.4,339.7 1257.6,274.3 1257.9,304.1 1258.2,272.1 1258.5,259.2 1258.8,225.2 1259.1,390.1 1259.4,310.2 1259.7,233.1 1260.0,350.9 1260.2,339.2 1260.5,276.0 1260.8,222.2 1261.1,293.3 1261.4,370.3 1261.7,399.0 1262.0,329.4 1262.3,341.8 1262.6,211.8 1262.8,258.6 1263.1,358.1 1263.4,318.4 1263.7,238.0 1264.0,293.7 1264.3,173.6 1264.6,301.7 1264.9,318.4 1265.1,223.0 1265.4,414.5 1265.7,208.9 1266.0,235.4 1266.3,217.1 1266.6,230.7 1266.9,246.0 1267.2,177.7 1267.5,405.6 1267.7,269.3 1268.0,312.9 1268.3,338.8 1268.6,230.9 1268.9,244.4 1269.2,206.8 1269.5,365.5 1269.8,239.7 1270.1,267.7 1270.3,332.1 1270.6,229.7 1270.9,231.7 1271.2,235.4 1271.5,297.0 1271.8,188.1 1272.1,367.6 1272.4,312.5 1272.6,336.8 1272.9,324.2 1273.2,231.5 1273.5,214.8 1273.8,312.3 1274.1,321.5 1274.4,272.3 1274.7,349.2 1275.0,308.8 1275.2,205.0 1275.5,246.4 1275.8,219.8 1276.1,317.1 1276.4,327.4 1276.7,383.3 1277.0,248.6 1277.3,196.4 1277.6,340.9 1277.8,245.7 1278.1,270.6 1278.4,266.3 1278.7,202.9 1279.0,395.8 1279.3,247.7 1279.6,293.2 1279.9,316.0 1280.2,156.6 1280.4,199.3 1280.7,292.5 1281.0,214.6 1281.3,199.8 1281.6,319.6 1281.9,187.5 1282.2,364.0 1282.5,239.2 1282.7,282.1 1283.0,304.5 1283.3,237.3 1283.6,202.9 1283.9,269.6 1284.2,384.2 1284.5,341.4 1284.8,247.1 1285.1,232.4 1285.3,131.1 1285.6,339.1 1285.9,289.9 1286.2,230.2 1286.5,269.3 1286.8,205.9 1287.1,352.1 1287.4,218.5 1287.7,314.4 1287.9,293.2 1288.2,200.6 1288.5,281.7 1288.8,329.8 1289.1,340.7 1289.4,392.2 1289.7,270.6 1290.0,307.2 1290.2,319.4 1290.5,318.6 1290.8,191.4 1291.1,292.1 1291.4,299.1 1291.7,349.2 1292.0,225.7 1292.3,305.5 1292.6,197.0 1292.8,241.7 1293.1,300.2 1293.4,296.1 1293.7,381.8 1294.0,214.8 1294.3,269.0 1294.6,322.3 1294.9,340.0 1295.2,226.1 1295.4,270.7 1295.7,321.2 1296.0,347.7 1296.3,239.8 1296.6,183.6 1296.9,314.2 1297.2,264.0 1297.5,261.1 1297.7,236.1 1298.0,417.4 1298.3,348.7 1298.6,229.6 1298.9,236.4 1299.2,324.1 1299.5,353.4 1299.8,251.9 1300.1,381.8 1300.3,177.1 1300.6,328.5 1300.9,267.1 1301.2,252.7 1301.5,307.6 1301.8,267.2 1302.1,247.4 1302.4,337.3 1302.7,257.8 1302.9,303.3 1303.2,264.1 1303.5,254.8 1303.8,253.9 1304.1,188.1 1304.4,257.7 1304.7,323.0 1305.0,346.2 1305.3,238.2 1305.5,235.1 1305.8,240.1 1306.1,294.3 1306.4,220.7 1306.7,236.1 1307.0,327.2 1307.3,334.7 1307.6,423.4 1307.8,198.2 1308.1,254.1 1308.4,332.1 1308.7,306.3 1309.0,255.2 1309.3,325.1 1309.6,297.1 1309.9,247.4 1310.2,380.3 1310.4,262.3 1310.7,330.6 1311.0,288.4 1311.3,191.1 1311.6,213.2 1311.9,307.3 1312.2,340.3 1312.5,281.1 1312.8,120.7 1313.0,317.0 1313.3,290.4 1313.6,276.3 1313.9,276.5 1314.2,146.6 1314.5,350.7 1314.8,273.7 1315.1,173.4 1315.3,292.4 1315.6,140.6 1315.9,325.8 1316.2,281.3 1316.5,262.3 1316.8,365.5 1317.1,269.0 1317.4,276.2 1317.7,317.1 1317.9,253.4 1318.2,274.2 1318.5,275.3 1318.8,384.8 1319.1,299.0 1319.4,261.5 1319.7,302.7 1320.0,304.6 1320.3,290.7 1320.5,211.2 1320.8,266.6 1321.1,332.9 1321.4,307.4 1321.7,247.3 1322.0,323.0 1322.3,189.6 1322.6,294.0 1322.9,264.1 1323.1,234.5 1323.4,323.3 1323.7,334.3 1324.0,214.8 1324.3,284.1 1324.6,308.9 1324.9,300.5 1325.2,269.1 1325.4,256.9 1325.7,234.1 1326.0,198.5 1326.3,346.2 1326.6,247.8 1326.9,311.3 1327.2,255.0 1327.5,250.0 1327.8,253.4 1328.0,313.4 1328.3,303.9 1328.6,205.9 1328.9,253.2 1329.2,257.3 1329.5,315.8 1329.8,267.8 1330.1,283.6 1330.4,316.3 1330.6,243.0 1330.9,315.6 1331.2,280.5 1331.5,294.0 1331.8,276.7 1332.1,384.2 1332.4,252.3 1332.7,282.8 1332.9,268.3 1333.2,259.9 1333.5,260.3 1333.8,197.6 1334.1,302.4 1334.4,364.0 1334.7,297.7 1335.0,336.6 1335.3,312.6 1335.5,271.3 1335.8,182.2 1336.1,274.6 1336.4,352.1 1336.7,270.7 1337.0,254.0 1337.3,314.6 1337.6,249.8 1337.9,197.0 1338.1,227.6 1338.4,156.0 1338.7,374.4 1339.0,260.2 1339.3,313.4 1339.6,236.8 1339.9,264.5 1340.2,223.7 1340.5,324.0 1340.7,238.6 1341.0,358.1 1341.3,255.7 1341.6,289.2 1341.9,288.3 1342.2,302.1 1342.5,230.1 1342.8,168.8 1343.0,413.0 1343.3,334.5 1343.6,266.0 1343.9,276.4 1344.2,331.7 1344.5,305.9 1344.8,250.4 1345.1,293.8 1345.4,384.8 1345.6,258.3 1345.9,270.5 1346.2,281.5 1346.5,321.6 1346.8,308.1 1347.1,274.5 1347.4,261.6 1347.7,205.9 1348.0,364.0 1348.2,272.0 1348.5,268.9 1348.8,269.6 1349.1,310.8 1349.4,166.7 1349.7,210.4 1350.0,307.4 1350.3,324.9 1350.5,337.3 1350.8,311.7 1351.1,321.2 1351.4,193.4 1351.7,225.8 1352.0,217.2 1352.3,349.2 1352.6,337.9 1352.9,308.4 1353.1,274.6 1353.4,208.9 1353.7,273.7 1354.0,264.0 1354.3,458.4 1354.6,293.3 1354.9,317.2 1355.2,265.4 1355.5,327.0 1355.7,191.1 1356.0,296.5 1356.3,259.5 1356.6,276.1 1356.9,323.5 1357.2,467.9 1357.5,271.4 1357.8,272.0 1358.0,238.5 1358.3,263.9 1358.6,253.4 1358.9,259.7 1359.2,353.5 1359.5,367.9 1359.8,222.8 1360.1,393.7 1360.4,296.7 1360.6,318.8 1360.9,244.8 1361.2,269.6 1361.5,264.6 1361.8,200.0 1362.1,352.1 1362.4,243.5 1362.7,325.1 1363.0,326.6 1363.2,243.2 1363.5,306.9 1363.8,179.2 1364.1,254.9 1364.4,284.3 1364.7,361.0 1365.0,294.7 1365.3,226.7 1365.6,263.9 1365.8,299.2 1366.1,296.1 1366.4,292.3 1366.7,138.2 1367.0,365.5 1367.3,261.3 1367.6,318.9 1367.9,260.6 1368.1,324.2 1368.4,353.4 1368.7,335.9 1369.0,245.5 1369.3,235.6 1369.6,394.6 1369.9,369.7 1370.2,264.6 1370.5,280.0 1370.7,304.4 1371.0,323.2 1371.3,381.8 1371.6,247.5 1371.9,222.2 1372.2,329.3 1372.5,269.0 1372.8,233.1 1373.1,390.7 1373.3,252.9 1373.6,231.0 1373.9,258.2 1374.2,352.0 1374.5,97.6 1374.8,414.5 1375.1,189.5 1375.4,301.6 1375.6,292.0 1375.9,119.8 1376.2,303.0 1376.5,313.8 1376.8,390.7 1377.1,212.0 1377.4,302.3 1377.7,108.9 1378.0,366.9 1378.2,264.0 1378.5,277.8 1378.8,349.5 1379.1,301.5 1379.4,410.0 1379.7,333.4 1380.0,250.4 1380.3,300.7 1380.6,264.6 1380.8,355.4 1381.1,317.1 1381.4,359.1 1381.7,384.8 1382.0,267.8 1382.3,332.1 1382.6,361.4 1382.9,264.3 1383.2,347.3 1383.4,162.0 1383.7,413.9 1384.0,252.0 1384.3,218.7 1384.6,381.2 1384.9,385.3 1385.2,162.0 1385.5,188.0 1385.7,402.6 1386.0,356.9 1386.3,300.2 1386.6,259.9 1386.9,268.0 1387.2,359.3 1387.5,147.1 1387.8,390.7 1388.1,326.6 1388.3,264.6 1388.6,216.8 1388.9,220.5 1389.2,360.0 1389.5,200.0 1389.8,237.2 1390.1,410.0 1390.4,312.4 1390.7,236.5 1390.9,121.3 1391.2,198.3 1391.5,305.4 1391.8,377.6 1392.1,393.7 1392.4,196.3 1392.7,238.8 1393.0,155.5 1393.2,199.6 1393.5,245.4 1393.8,360.0 1394.1,354.6 1394.4,186.6 1394.7,512.4 1395.0,151.0 1395.3,367.9 1395.6,347.8 1395.8,283.1 1396.1,299.9 1396.4,331.6 1396.7,488.0 1397.0,125.8 1397.3,355.3 1397.6,355.8 1397.9,263.6 1398.2,167.0 1398.4,364.3 1398.7,421.9 1399.0,108.0 1399.3,175.5 1399.6,378.3 1399.9,268.7 1400.2,223.1 1400.5,364.5 1400.8,334.4 1401.0,159.9 1401.3,439.7 1401.6,231.7 1401.9,318.1 1402.2,291.4 1402.5,327.7 1402.8,214.8 1403.1,298.6 1403.3,393.7 1403.6,261.6 1403.9,237.8 1404.2,227.9 1404.5,371.5 1404.8,187.2 1405.1,265.6 1405.4,418.9 1405.7,372.2 1405.9,331.8 1406.2,264.6 1406.5,238.5 1406.8,373.4 1407.1,415.9 1407.4,257.4 1407.7,296.8 1408.0,269.9 1408.3,257.3 1408.5,200.6 1408.8,355.9 1409.1,416.8 1409.4,244.7 1409.7,270.1 1410.0,247.8 1410.3,347.4 1410.6,240.8 1410.8,235.6 1411.1,388.4 1411.4,405.6 1411.7,341.7 1412.0,255.4 1412.3,310.6 1412.6,160.8 1412.9,217.2 1413.2,413.0 1413.4,341.5 1413.7,325.2 1414.0,202.9 1414.3,264.4 1414.6,314.7 1414.9,297.6 1415.2,228.3 1415.5,172.7 1415.8,421.9 1416.0,327.8 1416.3,216.2 1416.6,340.2 1416.9,350.4 1417.2,330.6 1417.5,185.7 1417.8,372.9 1418.1,215.0 1418.3,309.3 1418.6,320.6 1418.9,200.0 1419.2,310.4 1419.5,349.2 1419.8,279.9 1420.1,302.6 1420.4,339.3 1420.7,328.9 1420.9,182.8 1421.2,235.6 1421.5,337.8 1421.8,358.1 1422.1,234.6 1422.4,284.8 1422.7,311.9 1423.0,307.5 1423.3,219.3 1423.5,249.2 1423.8,499.3 1424.1,235.8 1424.4,228.9 1424.7,249.5 1425.0,311.9 1425.3,246.6 1425.6,393.7 1425.9,249.5 1426.1,126.7 1426.4,295.1 1426.7,310.8 1427.0,269.7 1427.3,298.5 1427.6,258.5 1427.9,220.7 1428.2,347.7 1428.4,327.1 1428.7,327.4 1429.0,234.2 1429.3,329.5 1429.6,281.7 1429.9,200.9 1430.2,346.2 1430.5,263.5 1430.8,305.9 1431.0,239.8 1431.3,333.0 1431.6,239.3 1431.9,279.9 1432.2,246.4 1432.5,382.7 1432.8,149.5 1433.1,354.3 1433.4,326.0 1433.6,299.0 1433.9,271.3 1434.2,340.4 1434.5,469.4 1434.8,226.7 1435.1,336.4 1435.4,300.3 1435.7,309.3 1435.9,255.3 1436.2,234.1 1436.5,402.6 1436.8,197.0 1437.1,277.1 1437.4,254.9 1437.7,318.6 1438.0,321.3 1438.3,255.2 1438.5,237.6 1438.8,176.2 1439.1,334.3 1439.4,258.4 1439.7,250.5 1440.0,307.2 1440.3,188.1 1440.6,260.5 1440.9,267.2 1441.1,225.2 1441.4,337.3 1441.7,262.5 1442.0,205.2 1442.3,151.3 1442.6,306.6 1442.9,268.6 1443.2,301.8 1443.5,331.4 1443.7,318.6 1444.0,214.8 1444.3,364.9 1444.6,301.6 1444.9,242.8 1445.2,273.2 1445.5,170.9 1445.8,315.9 1446.0,221.4 1446.3,349.2 1446.6,288.0 1446.9,211.8 1447.2,284.2 1447.5,324.6 1447.8,325.8 1448.1,325.2 1448.4,194.9 1448.6,358.1 1448.9,239.6 1449.2,345.1 1449.5,337.5 1449.8,249.5 1450.1,274.6 1450.4,208.0 1450.7,369.4 1451.0,274.7 1451.2,281.2 1451.5,339.5 1451.8,330.9 1452.1,260.8 1452.4,238.5 1452.7,315.9 1453.0,325.9 1453.3,318.9 1453.5,407.9 1453.8,359.8 1454.1,336.4 1454.4,271.5 1454.7,264.9 1455.0,357.4 1455.3,247.4 1455.6,390.7 1455.9,270.7 1456.1,293.3 1456.4,261.1 1456.7,432.9 1457.0,267.1 1457.3,319.8 1457.6,281.0 1457.9,151.6 1458.2,322.0 1458.5,348.2 1458.7,350.7 1459.0,395.2 1459.3,218.6 1459.6,330.9 1459.9,208.0 1460.2,234.6 1460.5,239.9 1460.8,321.1 1461.1,358.1 1461.3,235.9 1461.6,219.3 1461.9,330.7 1462.2,319.5 1462.5,278.8 1462.8,270.3 1463.1,289.6 1463.4,321.3 1463.6,208.9 1463.9,343.2 1464.2,318.7 1464.5,294.4 1464.8,236.9 1465.1,238.6 1465.4,389.2 1465.7,325.8 1466.0,231.1 1466.2,272.9 1466.5,364.2 1466.8,352.3 1467.1,273.3 1467.4,284.9 1467.7,232.6 1468.0,372.9 1468.3,316.3 1468.6,245.3 1468.8,244.5 1469.1,326.0 1469.4,343.4 1469.7,333.7 1470.0,208.3 1470.3,390.7 1470.6,240.1 1470.9,256.6 1471.1,336.3 1471.4,207.4 1471.7,304.7 1472.0,262.5 1472.3,311.3 1472.6,353.6 1472.9,308.2 1473.2,267.1 1473.5,306.9 1473.7,266.2 1474.0,175.6 1474.3,277.4 1474.6,336.3 1474.9,295.7 1475.2,364.6 1475.5,232.3 1475.8,297.0 1476.1,220.7 1476.3,253.4 1476.6,307.3 1476.9,312.0 1477.2,316.9 1477.5,334.3 1477.8,255.7 1478.1,311.3 1478.4,244.5 1478.6,268.1 1478.9,276.8 1479.2,322.8 1479.5,328.0 1479.8,252.6 1480.1,236.2 1480.4,341.8 1480.7,323.8 1481.0,254.5 1481.2,246.6 1481.5,335.9 1481.8,323.3 1482.1,232.6 1482.4,261.6 1482.7,254.5 1483.0,332.7 1483.3,304.8 1483.6,418.3 1483.8,250.7 1484.1,220.7 1484.4,237.6 1484.7,308.4 1485.0,304.5 1485.3,264.9 1485.6,180.7 1485.9,349.2 1486.2,306.9 1486.4,329.5 1486.7,269.7 1487.0,282.8 1487.3,250.4 1487.6,328.6 1487.9,346.2 1488.2,265.7 1488.5,328.4 1488.7,163.5 1489.0,244.2 1489.3,208.7 1489.6,450.7 1489.9,262.5 1490.2,319.7 1490.5,272.1 1490.8,331.8 1491.1,167.3 1491.3,281.8 1491.6,349.2 1491.9,311.6 1492.2,295.4 1492.5,266.8 1492.8,247.4 1493.1,290.5 1493.4,293.3 1493.7,407.9 1493.9,407.0 1494.2,299.9 1494.5,332.4 1494.8,265.3 1495.1,290.6 1495.4,313.2 1495.7,268.7 1496.0,274.9 1496.2,258.5 1496.5,156.9 1496.8,323.1 1497.1,309.4 1497.4,410.9 1497.7,326.7 1498.0,353.1 1498.3,158.4 1498.6,225.1 1498.8,313.4 1499.1,348.5 1499.4,364.0 1499.7,236.1 1500.0,338.6 1500.3,137.1 1500.6,169.0 1500.9,198.4 1501.2,328.0 1501.4,430.8 1501.7,135.3 1502.0,206.3 1502.3,333.2 1502.6,364.1 1502.9,243.1 1503.2,211.1 1503.5,340.8 1503.8,191.1 1504.0,405.6 1504.3,231.5 1504.6,307.4 1504.9,297.7 1505.2,252.9 1505.5,273.8 1505.8,170.3 1506.1,358.1 1506.3,323.1 1506.6,191.0 1506.9,315.4 1507.2,329.1 1507.5,218.7 1507.8,149.5 1508.1,454.5 1508.4,330.8 1508.7,329.0 1508.9,337.3 1509.2,362.1 1509.5,223.5 1509.8,146.6 1510.1,263.9 1510.4,378.8 1510.7,324.6 1511.0,303.5 1511.3,214.7 1511.5,218.7 1511.8,126.4 1512.1,307.9 1512.4,260.1 1512.7,337.3 1513.0,311.3 1513.3,300.2 1513.6,252.4 1513.8,296.5 1514.1,238.5 1514.4,310.4 1514.7,284.3 1515.0,248.1 1515.3,259.0 1515.6,301.8 1515.9,384.8 1516.2,315.0 1516.4,306.1 1516.7,264.4 1517.0,269.7 1517.3,186.6 1517.6,341.5 1517.9,275.1 1518.2,364.0 1518.5,243.2 1518.8,332.2 1519.0,223.4 1519.3,214.8 1519.6,346.4 1519.9,298.0 1520.2,422.5 1520.5,336.5 1520.8,346.2 1521.1,216.3 1521.4,257.4 1521.6,224.1 1521.9,322.2 1522.2,311.9 1522.5,225.4 1522.8,132.6 1523.1,328.2 1523.4,337.3 1523.7,385.4 1523.9,223.4 1524.2,308.4 1524.5,300.3 1524.8,264.4 1525.1,234.5 1525.4,182.2 1525.7,299.2 1526.0,259.3 1526.3,349.2 1526.5,299.9 1526.8,293.1 1527.1,270.9 1527.4,226.4 1527.7,305.1 1528.0,234.7 1528.3,208.9 1528.6,261.3 1528.9,317.3 1529.1,336.2 1529.4,273.3 1529.7,371.4 1530.0,309.6 1530.3,292.8 1530.6,250.4 1530.9,274.9 1531.2,304.4 1531.4,275.1 1531.7,271.2 1532.0,337.3 1532.3,294.4 1532.6,326.4 1532.9,277.8 1533.2,258.9 1533.5,110.4 1533.8,315.6 1534.0,242.1 1534.3,274.6 1534.6,330.4 1534.9,396.1 1535.2,260.2 1535.5,192.5 1535.8,345.3 1536.1,231.1 1536.4,212.0 1536.6,214.1 1536.9,276.1 1537.2,343.1 1537.5,191.1 1537.8,232.6 1538.1,417.4 1538.4,335.1 1538.7,354.8 1538.9,113.9 1539.2,299.7 1539.5,310.8 1539.8,346.4 1540.1,369.9 1540.4,306.4 1540.7,318.0 1541.0,191.1 1541.3,276.3 1541.5,305.2 1541.8,309.9 1542.1,230.7 1542.4,271.7 1542.7,223.7 1543.0,350.1 1543.3,434.3 1543.6,231.7 1543.9,326.8 1544.1,303.3 1544.4,156.9 1544.7,241.5 1545.0,331.8 1545.3,312.4 1545.6,390.7 1545.9,242.5 1546.2,332.9 1546.5,359.2 1546.7,255.8 1547.0,235.6 1547.3,329.6 1547.6,326.7 1547.9,338.8 1548.2,281.3 1548.5,202.9 1548.8,368.5 1549.0,258.7 1549.3,262.5 1549.6,249.3 1549.9,252.8 1550.2,224.1 1550.5,116.6 1550.8,343.2 1551.1,300.5 1551.4,254.8 1551.6,232.1 1551.9,167.3 1552.2,309.6 1552.5,293.5 1552.8,272.7 1553.1,417.4 1553.4,202.9 1553.7,214.1 1554.0,237.3 1554.2,301.9 1554.5,313.9 1554.8,231.0 1555.1,200.0 1555.4,321.2 1555.7,337.3 1556.0,250.3 1556.3,238.5 1556.5,324.1 1556.8,321.3 1557.1,330.9 1557.4,281.0 1557.7,294.2 1558.0,273.2 1558.3,270.7 1558.6,378.0 1558.9,298.6 1559.1,320.4 1559.4,259.3 1559.7,317.2 1560.0,316.2 1560.3,318.1" fill="none" stroke="#0072BD" stroke-width="1.4" stroke-linejoin="round"/>
<text x="422" y="610.8" text-anchor="middle" class="l">Time (s)</text>
<text x="1236.6" y="614.7" text-anchor="middle" class="l">Time (s)</text>
<text transform="translate(22.6,281.4) rotate(-90)" text-anchor="middle" class="l">Amplitude</text>
<text transform="translate(828.6,287.5) rotate(-90)" text-anchor="middle" class="l">Amplitude</text>
<text x="399.3" y="666.3" text-anchor="middle" class="c">(a) original diagram of outer ring</text>
<text x="1192" y="666.3" text-anchor="middle" class="c">(b) denoised diagram of outer ring</text>
</svg>
</body></html>
